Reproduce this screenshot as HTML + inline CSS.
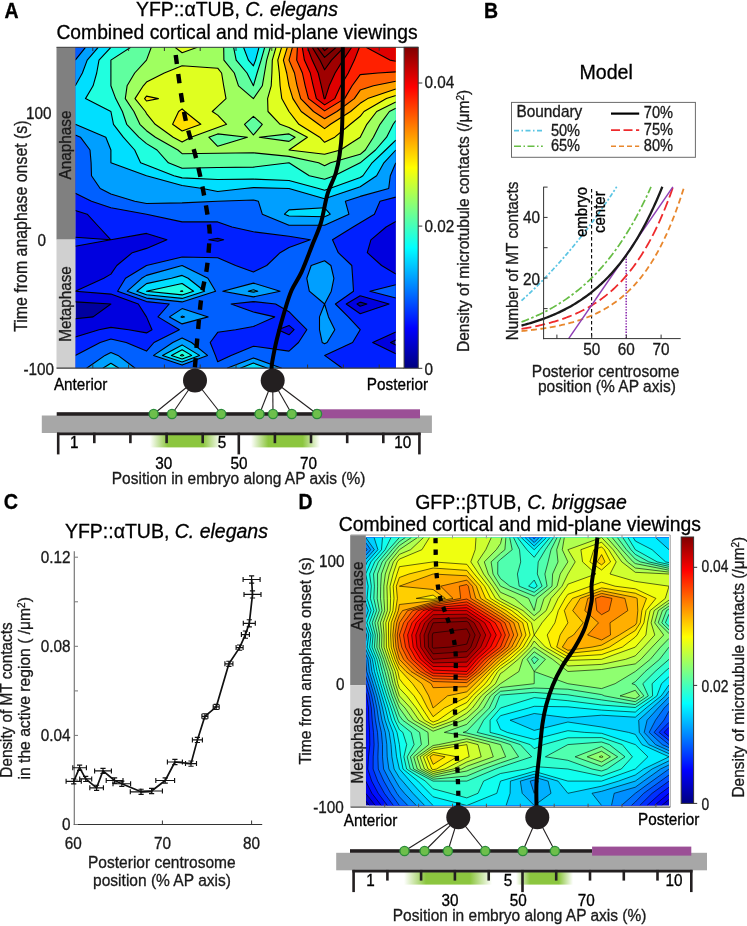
<!DOCTYPE html>
<html><head><meta charset="utf-8"><title>Figure</title>
<style>html,body{margin:0;padding:0;background:#fff;}svg{display:block;will-change:transform;}text{font-family:"Liberation Sans",sans-serif;}</style>
</head><body>
<svg width="747" height="926" viewBox="0 0 747 926" font-family="Liberation Sans, sans-serif">
<rect width="747" height="926" fill="#fff"/>
<defs><linearGradient id="jetg" x1="0" y1="1" x2="0" y2="0"><stop offset="0.000" stop-color="#000080"/><stop offset="0.031" stop-color="#00009f"/><stop offset="0.062" stop-color="#0000bf"/><stop offset="0.094" stop-color="#0000df"/><stop offset="0.125" stop-color="#0000ff"/><stop offset="0.156" stop-color="#0020ff"/><stop offset="0.188" stop-color="#0040ff"/><stop offset="0.219" stop-color="#0060ff"/><stop offset="0.250" stop-color="#0080ff"/><stop offset="0.281" stop-color="#009fff"/><stop offset="0.312" stop-color="#00bfff"/><stop offset="0.344" stop-color="#00dfff"/><stop offset="0.375" stop-color="#00ffff"/><stop offset="0.406" stop-color="#20ffdf"/><stop offset="0.438" stop-color="#40ffbf"/><stop offset="0.469" stop-color="#60ff9f"/><stop offset="0.500" stop-color="#80ff80"/><stop offset="0.531" stop-color="#9fff60"/><stop offset="0.562" stop-color="#bfff40"/><stop offset="0.594" stop-color="#dfff20"/><stop offset="0.625" stop-color="#ffff00"/><stop offset="0.656" stop-color="#ffdf00"/><stop offset="0.688" stop-color="#ffbf00"/><stop offset="0.719" stop-color="#ff9f00"/><stop offset="0.750" stop-color="#ff8000"/><stop offset="0.781" stop-color="#ff6000"/><stop offset="0.812" stop-color="#ff4000"/><stop offset="0.844" stop-color="#ff2000"/><stop offset="0.875" stop-color="#ff0000"/><stop offset="0.906" stop-color="#df0000"/><stop offset="0.938" stop-color="#bf0000"/><stop offset="0.969" stop-color="#9f0000"/><stop offset="1.000" stop-color="#800000"/></linearGradient>
<linearGradient id="gband" x1="0" y1="0" x2="1" y2="0"><stop offset="0" stop-color="#8cc63f" stop-opacity="0"/><stop offset="0.25" stop-color="#8cc63f"/><stop offset="0.75" stop-color="#8cc63f"/><stop offset="1" stop-color="#8cc63f" stop-opacity="0"/></linearGradient>
<clipPath id="clipA"><rect x="75.3" y="47.3" width="320.5" height="320.9"/></clipPath>
<clipPath id="clipD"><rect x="365.7" y="537.5" width="303.3" height="268"/></clipPath>
</defs>
<text transform="translate(4.6 17.6) scale(1 1.1)" font-size="19.50" font-weight="bold" fill="#000" stroke="#000" stroke-width="0.30">A</text>
<text transform="translate(236.9 15.8) scale(1 1.05)" font-size="19.40" text-anchor="middle" fill="#000" stroke="#000" stroke-width="0.30">YFP::αTUB, <tspan font-style="italic">C. elegans</tspan></text>
<text transform="translate(237.0 38.6) scale(1 1.05)" font-size="19.30" text-anchor="middle" fill="#000" stroke="#000" stroke-width="0.30">Combined cortical and mid-plane viewings</text>
<g clip-path="url(#clipA)">
<rect x="75.3" y="47.3" width="320.5" height="320.9" fill="#00009f"/>
<path d="M110.9 47.3L146.5 47.3L182.1 47.3L217.7 47.3L253.4 47.3L289.0 47.3L324.6 47.3L360.2 47.3L395.8 47.3L395.8 60.1L395.8 73.0L395.8 85.8L395.8 98.6L395.8 111.5L395.8 124.3L395.8 137.2L395.8 150.0L395.8 162.8L395.8 175.7L395.8 188.5L395.8 201.3L395.8 214.2L395.8 227.0L395.8 239.8L395.8 252.7L395.8 265.5L395.8 278.3L395.8 291.2L395.8 304.0L395.8 316.9L395.8 329.7L395.8 340.1L390.5 342.5L395.8 345.1L395.8 355.4L395.8 368.2L360.2 368.2L324.6 368.2L289.0 368.2L253.4 368.2L217.7 368.2L182.1 368.2L146.5 368.2L110.9 368.2L75.3 368.2L75.3 355.4L75.3 342.5L75.3 329.7L75.3 318.7L93.1 316.9L110.9 304.0L110.9 304.0L110.9 304.0L75.3 301.9L75.3 291.2L75.3 278.3L75.3 265.5L75.3 252.7L75.3 239.8L75.3 227.0L75.3 214.2L75.3 201.3L75.3 188.5L75.3 175.7L75.3 162.8L75.3 150.0L75.3 137.2L75.3 124.3L75.3 111.5L75.3 98.6L75.3 85.8L75.3 73.0L75.3 60.1L75.3 47.3ZM357.0 304.0L360.2 306.3L366.9 304.0L360.2 302.1Z" fill="#0000df" fill-rule="evenodd"/>
<path d="M110.9 47.3L146.5 47.3L182.1 47.3L217.7 47.3L253.4 47.3L289.0 47.3L324.6 47.3L360.2 47.3L395.8 47.3L395.8 60.1L395.8 73.0L395.8 85.8L395.8 98.6L395.8 111.5L395.8 124.3L395.8 137.2L395.8 150.0L395.8 162.8L395.8 175.7L395.8 188.5L395.8 201.3L395.8 214.2L395.8 221.5L386.1 227.0L370.9 239.8L367.3 252.7L381.6 265.5L395.8 274.1L395.8 278.3L395.8 291.2L395.8 304.0L395.8 316.9L395.8 329.7L395.8 332.1L372.7 342.5L395.8 353.7L395.8 355.4L395.8 368.2L360.2 368.2L324.6 368.2L289.0 368.2L253.4 368.2L217.7 368.2L182.1 368.2L146.5 368.2L110.9 368.2L75.3 368.2L75.3 355.4L75.3 342.5L75.3 337.0L99.0 329.7L110.9 327.4L128.7 329.7L146.5 332.9L152.0 329.7L146.5 316.9L146.5 316.9L138.3 304.0L110.9 294.1L75.3 291.2L103.8 278.3L110.9 274.1L116.8 265.5L132.3 252.7L146.5 248.4L166.9 239.8L146.5 233.4L110.9 239.8L99.0 227.0L87.2 214.2L75.3 210.5L75.3 201.3L75.3 188.5L75.3 175.7L75.3 162.8L75.3 150.0L75.3 137.2L75.3 124.3L75.3 111.5L75.3 98.6L75.3 85.8L75.3 73.0L75.3 60.1L75.3 47.3ZM208.8 239.8L217.7 241.3L223.7 239.8L217.7 238.4ZM346.2 304.0L360.2 313.8L389.1 304.0L360.2 295.7ZM278.0 329.7L289.0 334.8L294.1 329.7L289.0 325.4ZM110.9 239.8L75.3 246.3L75.3 239.8L75.3 237.3Z" fill="#0020ff" fill-rule="evenodd"/>
<path d="M110.9 47.3L146.5 47.3L182.1 47.3L217.7 47.3L253.4 47.3L289.0 47.3L324.6 47.3L360.2 47.3L395.8 47.3L395.8 60.1L395.8 73.0L395.8 85.8L395.8 98.6L395.8 111.5L395.8 124.3L395.8 137.2L395.8 150.0L395.8 162.8L395.8 175.7L395.8 188.5L395.8 197.1L380.0 201.3L374.4 214.2L360.2 222.7L353.1 227.0L332.5 239.8L338.3 252.7L351.8 265.5L352.7 278.3L353.5 291.2L335.4 304.0L348.3 316.9L360.2 329.7L352.6 342.5L324.6 355.4L324.6 355.4L324.6 355.4L342.4 368.2L324.6 368.2L289.0 368.2L253.4 368.2L217.7 368.2L182.1 368.2L182.1 368.2L182.1 368.2L146.5 368.2L110.9 368.2L75.3 368.2L75.3 355.4L75.3 355.4L100.2 342.5L110.9 339.0L126.2 342.5L146.5 351.1L154.0 342.5L179.4 329.7L158.0 316.9L169.2 304.0L146.5 301.6L117.6 291.2L125.5 278.3L146.5 265.5L146.5 265.5L182.1 257.0L217.7 257.8L235.6 265.5L253.4 271.9L266.7 265.5L280.1 252.7L289.0 247.5L310.3 239.8L289.0 236.3L253.4 231.8L232.0 227.0L217.7 221.9L182.1 221.9L146.5 214.2L146.5 214.2L110.9 207.8L91.5 201.3L75.3 193.3L75.3 188.5L75.3 175.7L75.3 162.8L75.3 150.0L75.3 137.2L75.3 124.3L75.3 111.5L75.3 98.6L75.3 85.8L75.3 73.0L75.3 60.1L75.3 47.3ZM231.1 304.0L253.4 312.0L274.7 316.9L253.4 326.5L235.6 329.7L217.7 332.3L210.2 342.5L215.4 355.4L217.7 361.8L231.1 355.4L253.4 346.2L289.0 351.1L298.5 342.5L306.8 329.7L294.1 316.9L289.0 311.7L275.6 304.0L253.4 301.6ZM395.8 284.8L395.8 291.2L395.8 298.0L369.9 291.2Z" fill="#0060ff" fill-rule="evenodd"/>
<path d="M110.9 47.3L146.5 47.3L182.1 47.3L217.7 47.3L253.4 47.3L289.0 47.3L324.6 47.3L360.2 47.3L395.8 47.3L395.8 60.1L395.8 73.0L395.8 85.8L395.8 98.6L395.8 111.5L395.8 124.3L395.8 137.2L395.8 150.0L395.8 162.8L395.8 162.8L390.3 175.7L388.7 188.5L360.2 196.4L345.4 201.3L348.9 214.2L324.6 225.3L289.0 225.2L262.3 214.2L258.4 201.3L253.4 200.0L217.7 201.3L217.7 201.3L182.1 202.9L146.5 203.5L134.7 201.3L110.9 194.0L100.2 188.5L91.5 175.7L91.1 162.8L90.0 150.0L80.4 137.2L75.3 135.0L75.3 124.3L75.3 111.5L75.3 98.6L75.3 85.8L75.3 73.0L75.3 60.1L75.3 60.1L85.5 47.3ZM324.6 260.7L330.9 265.5L333.9 278.3L331.3 291.2L324.6 304.0L309.3 291.2L306.8 278.3L311.2 265.5ZM146.5 275.4L182.1 265.5L207.9 278.3L215.6 291.2L182.1 301.9L146.5 298.1L127.3 291.2L141.7 278.3ZM253.4 283.1L280.1 291.2L253.4 296.9L222.8 291.2ZM182.1 308.6L208.2 316.9L182.1 323.9L169.5 316.9ZM324.6 304.0L328.5 316.9L334.8 329.7L327.1 342.5L324.6 343.7L322.2 342.5L319.5 329.7L319.5 316.9ZM182.1 337.9L191.5 342.5L207.5 355.4L182.1 365.1L153.6 355.4L172.8 342.5ZM110.9 352.5L118.0 355.4L135.2 368.2L110.9 368.2L86.6 368.2L105.0 355.4ZM253.4 357.9L281.8 368.2L253.4 368.2L227.0 368.2Z" fill="#009fff" fill-rule="evenodd"/>
<path d="M110.9 47.3L146.5 47.3L182.1 47.3L217.7 47.3L253.4 47.3L253.4 47.3L253.4 47.3L289.0 47.3L324.6 47.3L360.2 47.3L395.8 47.3L395.8 60.1L395.8 73.0L395.8 85.8L395.8 98.6L395.8 111.5L395.8 124.3L395.8 137.2L395.8 150.0L395.8 150.0L383.9 162.8L376.6 175.7L360.2 186.7L355.1 188.5L324.6 198.8L289.0 188.5L289.0 188.5L253.4 187.6L244.5 188.5L217.7 191.5L202.5 188.5L182.1 185.5L146.5 175.7L146.5 175.7L110.9 162.8L110.9 150.0L110.9 150.0L105.8 137.2L75.3 124.3L75.3 124.3L75.3 111.5L75.3 98.6L75.3 85.8L75.3 85.8L82.4 73.0L87.2 60.1L98.2 47.3ZM289.0 209.9L324.6 207.8L330.2 214.2L324.6 216.7L289.0 216.0L284.5 214.2ZM182.1 275.4L188.1 278.3L204.6 291.2L182.1 298.4L146.5 294.7L136.9 291.2L146.5 283.6L171.4 278.3ZM253.4 289.8L257.8 291.2L253.4 292.1L248.3 291.2ZM182.1 316.1L184.5 316.9L182.1 317.5L181.0 316.9ZM182.1 344.9L199.5 355.4L182.1 362.1L162.5 355.4ZM110.9 363.3L119.0 368.2L110.9 368.2L102.8 368.2ZM253.4 363.1L267.6 368.2L253.4 368.2L240.2 368.2Z" fill="#00dfff" fill-rule="evenodd"/>
<path d="M110.9 47.3L110.9 47.3L146.5 47.3L182.1 47.3L217.7 47.3L243.5 47.3L248.4 60.1L253.4 65.8L255.6 60.1L259.0 47.3L289.0 47.3L324.6 47.3L360.2 47.3L395.8 47.3L395.8 60.1L395.8 73.0L395.8 85.8L395.8 98.6L395.8 111.5L395.8 124.3L395.8 137.2L395.8 140.1L385.6 150.0L372.1 162.8L362.9 175.7L360.2 177.5L329.7 188.5L324.6 190.2L318.6 188.5L289.0 180.5L253.4 179.1L217.7 179.5L182.1 177.9L173.9 175.7L146.5 165.0L140.6 162.8L134.7 150.0L123.3 137.2L113.5 124.3L110.9 111.5L110.9 111.5L85.5 98.6L93.1 85.8L96.7 73.0L99.0 60.1ZM182.1 283.5L193.6 291.2L182.1 294.9L146.5 291.2ZM182.1 349.7L191.6 355.4L182.1 359.0L171.4 355.4Z" fill="#20ffdf" fill-rule="evenodd"/>
<path d="M146.5 47.3L182.1 47.3L217.7 47.3L233.6 47.3L236.2 60.1L247.0 73.0L253.4 85.8L253.4 85.8L253.4 85.8L257.1 73.0L261.1 60.1L264.7 47.3L289.0 47.3L324.6 47.3L360.2 47.3L395.8 47.3L395.8 60.1L395.8 73.0L395.8 85.8L395.8 98.6L395.8 111.5L395.8 120.6L393.2 124.3L386.6 137.2L375.5 150.0L360.2 162.8L360.2 162.8L334.3 175.7L324.6 179.2L309.3 175.7L289.0 162.8L289.0 162.8L289.0 162.8L253.4 167.1L217.7 167.5L182.1 168.2L168.4 162.8L157.0 150.0L146.5 143.6L138.8 137.2L126.7 124.3L122.4 111.5L115.7 98.6L110.9 85.8L110.9 73.0L110.9 60.1L130.7 47.3ZM182.1 290.8L182.7 291.2L182.1 291.4L180.4 291.2ZM182.1 354.4L183.7 355.4L182.1 356.0L180.4 355.4Z" fill="#60ff9f" fill-rule="evenodd"/>
<path d="M182.1 47.3L217.7 47.3L223.7 47.3L223.9 60.1L234.3 73.0L238.5 85.8L253.4 98.6L253.4 98.6L253.4 98.6L262.3 85.8L264.5 73.0L266.7 60.1L270.3 47.3L289.0 47.3L324.6 47.3L360.2 47.3L395.8 47.3L395.8 60.1L395.8 73.0L395.8 85.8L395.8 98.6L395.8 108.3L389.4 111.5L380.0 124.3L373.4 137.2L365.3 150.0L360.2 154.3L330.5 162.8L324.6 165.7L318.6 162.8L289.0 156.4L253.4 152.8L217.7 153.2L182.1 153.7L177.9 150.0L155.4 137.2L146.5 130.7L139.9 124.3L133.9 111.5L125.3 98.6L127.1 85.8L134.7 73.0L146.5 60.1L146.5 60.1L151.3 47.3ZM244.5 124.3L253.4 135.0L262.3 124.3L253.4 116.3ZM208.8 137.2L217.7 146.3L247.4 137.2L217.7 133.9ZM259.3 137.2L289.0 141.4L295.1 137.2L289.0 133.9Z" fill="#9fff60" fill-rule="evenodd"/>
<path d="M182.1 47.3L197.4 47.3L182.1 52.8L175.0 47.3ZM289.0 47.3L324.6 47.3L360.2 47.3L395.8 47.3L395.8 60.1L395.8 73.0L395.8 85.8L395.8 98.6L395.8 101.9L376.7 111.5L366.8 124.3L360.2 137.2L360.2 137.2L340.4 150.0L324.6 154.3L289.0 150.0L307.4 137.2L289.0 127.5L280.1 124.3L268.0 111.5L267.6 98.6L271.2 85.8L271.9 73.0L272.3 60.1L276.0 47.3ZM182.1 65.8L217.7 68.2L221.6 73.0L223.7 85.8L226.0 98.6L217.7 106.3L212.3 111.5L217.7 115.1L226.6 124.3L217.7 127.5L191.0 137.2L182.1 142.1L173.2 137.2L155.2 124.3L146.5 113.6L145.4 111.5L135.0 98.6L143.3 85.8L146.5 82.1L164.3 73.0Z" fill="#dfff20" fill-rule="evenodd"/>
<path d="M289.0 47.3L324.6 47.3L360.2 47.3L395.8 47.3L395.8 60.1L395.8 73.0L395.8 85.8L395.8 95.4L386.4 98.6L364.0 111.5L360.2 116.3L350.3 124.3L334.8 137.2L324.6 142.3L319.7 137.2L298.9 124.3L289.0 111.5L289.0 111.5L281.8 98.6L280.1 85.8L279.3 73.0L277.8 60.1L281.6 47.3ZM146.5 96.1L158.4 98.6L146.5 101.0L144.6 98.6ZM182.1 108.9L184.9 111.5L200.8 124.3L182.1 131.0L172.6 124.3L178.6 111.5Z" fill="#ffdf00" fill-rule="evenodd"/>
<path d="M289.0 47.3L324.6 47.3L360.2 47.3L395.8 47.3L395.8 60.1L395.8 73.0L395.8 85.8L395.8 89.0L367.7 98.6L360.2 103.3L350.6 111.5L330.5 124.3L324.6 128.6L318.6 124.3L301.2 111.5L292.9 98.6L289.0 85.8L289.0 85.8L286.7 73.0L283.4 60.1L287.3 47.3Z" fill="#ff9f00" fill-rule="evenodd"/>
<path d="M324.6 47.3L360.2 47.3L395.8 47.3L395.8 60.1L395.8 73.0L395.8 81.2L373.5 85.8L360.2 90.1L354.3 98.6L336.9 111.5L324.6 118.7L313.5 111.5L300.7 98.6L297.1 85.8L294.5 73.0L289.0 60.1L292.4 47.3Z" fill="#ff6000" fill-rule="evenodd"/>
<path d="M324.6 47.3L360.2 47.3L395.8 47.3L395.8 60.1L395.8 71.9L378.0 73.0L360.2 74.6L352.1 85.8L344.6 98.6L324.6 110.9L308.5 98.6L305.2 85.8L302.4 73.0L296.7 60.1L297.4 47.3Z" fill="#ff2000" fill-rule="evenodd"/>
<path d="M324.6 47.3L359.4 47.3L354.4 60.1L348.3 73.0L340.7 85.8L334.8 98.6L324.6 104.9L316.4 98.6L313.2 85.8L310.3 73.0L304.4 60.1L302.3 47.3ZM395.8 47.3L395.8 60.1L395.8 61.2L389.9 60.1L366.1 47.3Z" fill="#df0000" fill-rule="evenodd"/>
<path d="M324.6 47.3L351.7 47.3L343.0 60.1L335.1 73.0L329.2 85.8L325.1 98.6L324.6 98.9L324.2 98.6L321.3 85.8L318.2 73.0L312.2 60.1L307.3 47.3Z" fill="#9f0000" fill-rule="evenodd"/>
<path d="M324.6 47.3L343.9 47.3L331.5 60.1L324.6 69.8L319.9 60.1L312.2 47.3Z" fill="#800000" fill-rule="evenodd"/>
<path d="M324.6 47.3L336.2 47.3L324.6 57.4L317.2 47.3Z" fill="#800000" fill-rule="evenodd"/>
<path d="M324.6 47.3L328.4 47.3L324.6 50.7L322.1 47.3Z" fill="#800000" fill-rule="evenodd"/>
<path d="M75.3 318.7L93.1 316.9L110.9 304.0L110.9 304.0L110.9 304.0L75.3 301.9M395.8 340.1L390.5 342.5L395.8 345.1M360.2 302.1L357.0 304.0L360.2 306.3L366.9 304.0L360.2 302.1M395.8 221.5L386.1 227.0L370.9 239.8L367.3 252.7L381.6 265.5L395.8 274.1M75.3 237.3L110.9 239.8L75.3 246.3M75.3 337.0L99.0 329.7L110.9 327.4L128.7 329.7L146.5 332.9L152.0 329.7L146.5 316.9L146.5 316.9L138.3 304.0L110.9 294.1L75.3 291.2L103.8 278.3L110.9 274.1L116.8 265.5L132.3 252.7L146.5 248.4L166.9 239.8L146.5 233.4L110.9 239.8L99.0 227.0L87.2 214.2L75.3 210.5M395.8 332.1L372.7 342.5L395.8 353.7M217.7 238.4L208.8 239.8L217.7 241.3L223.7 239.8L217.7 238.4M360.2 295.7L346.2 304.0L360.2 313.8L389.1 304.0L360.2 295.7M289.0 325.4L278.0 329.7L289.0 334.8L294.1 329.7ZM395.8 197.1L380.0 201.3L374.4 214.2L360.2 222.7L353.1 227.0L332.5 239.8L338.3 252.7L351.8 265.5L352.7 278.3L353.5 291.2L335.4 304.0L348.3 316.9L360.2 329.7L352.6 342.5L324.6 355.4L324.6 355.4L324.6 355.4L342.4 368.2M395.8 298.0L369.9 291.2L395.8 284.8M75.3 355.4L75.3 355.4L100.2 342.5L110.9 339.0L126.2 342.5L146.5 351.1L154.0 342.5L179.4 329.7L158.0 316.9L169.2 304.0L146.5 301.6L117.6 291.2L125.5 278.3L146.5 265.5L146.5 265.5L182.1 257.0L217.7 257.8L235.6 265.5L253.4 271.9L266.7 265.5L280.1 252.7L289.0 247.5L310.3 239.8L289.0 236.3L253.4 231.8L232.0 227.0L217.7 221.9L182.1 221.9L146.5 214.2L146.5 214.2L110.9 207.8L91.5 201.3L75.3 193.3M182.1 368.2L182.1 368.2ZM253.4 301.6L231.1 304.0L253.4 312.0L274.7 316.9L253.4 326.5L235.6 329.7L217.7 332.3L210.2 342.5L215.4 355.4L217.7 361.8L231.1 355.4L253.4 346.2L289.0 351.1L298.5 342.5L306.8 329.7L294.1 316.9L289.0 311.7L275.6 304.0L253.4 301.6M75.3 60.1L75.3 60.1L85.5 47.3M395.8 162.8L395.8 162.8L390.3 175.7L388.7 188.5L360.2 196.4L345.4 201.3L348.9 214.2L324.6 225.3L289.0 225.2L262.3 214.2L258.4 201.3L253.4 200.0L217.7 201.3L217.7 201.3L182.1 202.9L146.5 203.5L134.7 201.3L110.9 194.0L100.2 188.5L91.5 175.7L91.1 162.8L90.0 150.0L80.4 137.2L75.3 135.0M86.6 368.2L105.0 355.4L110.9 352.5L118.0 355.4L135.2 368.2M227.0 368.2L253.4 357.9L281.8 368.2M324.6 260.7L330.9 265.5L333.9 278.3L331.3 291.2L324.6 304.0L309.3 291.2L306.8 278.3L311.2 265.5ZM146.5 275.4L182.1 265.5L207.9 278.3L215.6 291.2L182.1 301.9L146.5 298.1L127.3 291.2L141.7 278.3ZM253.4 283.1L280.1 291.2L253.4 296.9L222.8 291.2ZM182.1 308.6L208.2 316.9L182.1 323.9L169.5 316.9ZM324.6 304.0L328.5 316.9L334.8 329.7L327.1 342.5L324.6 343.7L322.2 342.5L319.5 329.7L319.5 316.9ZM182.1 337.9L191.5 342.5L207.5 355.4L182.1 365.1L153.6 355.4L172.8 342.5ZM253.4 47.3L253.4 47.3ZM75.3 85.8L75.3 85.8L82.4 73.0L87.2 60.1L98.2 47.3M395.8 150.0L395.8 150.0L383.9 162.8L376.6 175.7L360.2 186.7L355.1 188.5L324.6 198.8L289.0 188.5L289.0 188.5L253.4 187.6L244.5 188.5L217.7 191.5L202.5 188.5L182.1 185.5L146.5 175.7L146.5 175.7L110.9 162.8L110.9 150.0L110.9 150.0L105.8 137.2L75.3 124.3L75.3 124.3M102.8 368.2L110.9 363.3L119.0 368.2M240.2 368.2L253.4 363.1L267.6 368.2M289.0 209.9L324.6 207.8L330.2 214.2L324.6 216.7L289.0 216.0L284.5 214.2ZM182.1 275.4L188.1 278.3L204.6 291.2L182.1 298.4L146.5 294.7L136.9 291.2L146.5 283.6L171.4 278.3ZM253.4 289.8L257.8 291.2L253.4 292.1L248.3 291.2ZM182.1 316.1L184.5 316.9L182.1 317.5L181.0 316.9ZM182.1 344.9L199.5 355.4L182.1 362.1L162.5 355.4ZM243.5 47.3L248.4 60.1L253.4 65.8L255.6 60.1L259.0 47.3M395.8 140.1L385.6 150.0L372.1 162.8L362.9 175.7L360.2 177.5L329.7 188.5L324.6 190.2L318.6 188.5L289.0 180.5L253.4 179.1L217.7 179.5L182.1 177.9L173.9 175.7L146.5 165.0L140.6 162.8L134.7 150.0L123.3 137.2L113.5 124.3L110.9 111.5L110.9 111.5L85.5 98.6L93.1 85.8L96.7 73.0L99.0 60.1L110.9 47.3L110.9 47.3M182.1 283.5L193.6 291.2L182.1 294.9L146.5 291.2ZM182.1 349.7L191.6 355.4L182.1 359.0L171.4 355.4ZM233.6 47.3L236.2 60.1L247.0 73.0L253.4 85.8L253.4 85.8L253.4 85.8L257.1 73.0L261.1 60.1L264.7 47.3M395.8 120.6L393.2 124.3L386.6 137.2L375.5 150.0L360.2 162.8L360.2 162.8L334.3 175.7L324.6 179.2L309.3 175.7L289.0 162.8L289.0 162.8L289.0 162.8L253.4 167.1L217.7 167.5L182.1 168.2L168.4 162.8L157.0 150.0L146.5 143.6L138.8 137.2L126.7 124.3L122.4 111.5L115.7 98.6L110.9 85.8L110.9 73.0L110.9 60.1L130.7 47.3M182.1 290.8L182.7 291.2L182.1 291.4L180.4 291.2ZM182.1 354.4L183.7 355.4L182.1 356.0L180.4 355.4ZM223.7 47.3L223.9 60.1L234.3 73.0L238.5 85.8L253.4 98.6L253.4 98.6L253.4 98.6L262.3 85.8L264.5 73.0L266.7 60.1L270.3 47.3M395.8 108.3L389.4 111.5L380.0 124.3L373.4 137.2L365.3 150.0L360.2 154.3L330.5 162.8L324.6 165.7L318.6 162.8L289.0 156.4L253.4 152.8L217.7 153.2L182.1 153.7L177.9 150.0L155.4 137.2L146.5 130.7L139.9 124.3L133.9 111.5L125.3 98.6L127.1 85.8L134.7 73.0L146.5 60.1L146.5 60.1L151.3 47.3M253.4 116.3L244.5 124.3L253.4 135.0L262.3 124.3ZM217.7 133.9L208.8 137.2L217.7 146.3L247.4 137.2ZM289.0 133.9L259.3 137.2L289.0 141.4L295.1 137.2ZM197.4 47.3L182.1 52.8L175.0 47.3M395.8 101.9L376.7 111.5L366.8 124.3L360.2 137.2L360.2 137.2L340.4 150.0L324.6 154.3L289.0 150.0L307.4 137.2L289.0 127.5L280.1 124.3L268.0 111.5L267.6 98.6L271.2 85.8L271.9 73.0L272.3 60.1L276.0 47.3M182.1 65.8L217.7 68.2L221.6 73.0L223.7 85.8L226.0 98.6L217.7 106.3L212.3 111.5L217.7 115.1L226.6 124.3L217.7 127.5L191.0 137.2L182.1 142.1L173.2 137.2L155.2 124.3L146.5 113.6L145.4 111.5L135.0 98.6L143.3 85.8L146.5 82.1L164.3 73.0ZM395.8 95.4L386.4 98.6L364.0 111.5L360.2 116.3L350.3 124.3L334.8 137.2L324.6 142.3L319.7 137.2L298.9 124.3L289.0 111.5L289.0 111.5L281.8 98.6L280.1 85.8L279.3 73.0L277.8 60.1L281.6 47.3M146.5 96.1L158.4 98.6L146.5 101.0L144.6 98.6ZM182.1 108.9L184.9 111.5L200.8 124.3L182.1 131.0L172.6 124.3L178.6 111.5ZM395.8 89.0L367.7 98.6L360.2 103.3L350.6 111.5L330.5 124.3L324.6 128.6L318.6 124.3L301.2 111.5L292.9 98.6L289.0 85.8L289.0 85.8L286.7 73.0L283.4 60.1L287.3 47.3M395.8 81.2L373.5 85.8L360.2 90.1L354.3 98.6L336.9 111.5L324.6 118.7L313.5 111.5L300.7 98.6L297.1 85.8L294.5 73.0L289.0 60.1L292.4 47.3M395.8 71.9L378.0 73.0L360.2 74.6L352.1 85.8L344.6 98.6L324.6 110.9L308.5 98.6L305.2 85.8L302.4 73.0L296.7 60.1L297.4 47.3M359.4 47.3L354.4 60.1L348.3 73.0L340.7 85.8L334.8 98.6L324.6 104.9L316.4 98.6L313.2 85.8L310.3 73.0L304.4 60.1L302.3 47.3M395.8 61.2L389.9 60.1L366.1 47.3M351.7 47.3L343.0 60.1L335.1 73.0L329.2 85.8L325.1 98.6L324.6 98.9L324.2 98.6L321.3 85.8L318.2 73.0L312.2 60.1L307.3 47.3M343.9 47.3L331.5 60.1L324.6 69.8L319.9 60.1L312.2 47.3M336.2 47.3L324.6 57.4L317.2 47.3M328.4 47.3L324.6 50.7L322.1 47.3" fill="none" stroke="#000" stroke-width="1.10" stroke-linejoin="round"/>
</g>
<rect x="56.5" y="47.3" width="18.8" height="192.3" fill="#808080"/>
<rect x="56.5" y="239.6" width="18.8" height="128.6" fill="#d0d0d0"/>
<text transform="translate(70.5 145.0) rotate(-90) scale(1 1.1)" font-size="15.30" text-anchor="middle" fill="#1a1a1a" stroke="#1a1a1a" stroke-width="0.30">Anaphase</text>
<text transform="translate(70.5 304.0) rotate(-90) scale(1 1.1)" font-size="15.30" text-anchor="middle" fill="#1a1a1a" stroke="#1a1a1a" stroke-width="0.30">Metaphase</text>
<line x1="56.5" y1="47.3" x2="418.2" y2="47.3" stroke="#3a3a3a" stroke-width="1.00"/>
<line x1="56.5" y1="368.2" x2="404.0" y2="368.2" stroke="#3a3a3a" stroke-width="1.20"/>
<text transform="translate(51.5 118.5) scale(1 1.1)" font-size="15.30" text-anchor="end" fill="#1a1a1a" stroke="#1a1a1a" stroke-width="0.30">100</text>
<text transform="translate(46.0 246.3) scale(1 1.1)" font-size="15.30" text-anchor="end" fill="#1a1a1a" stroke="#1a1a1a" stroke-width="0.30">0</text>
<text transform="translate(54.0 374.5) scale(1 1.1)" font-size="15.30" text-anchor="end" fill="#1a1a1a" stroke="#1a1a1a" stroke-width="0.30">-100</text>
<line x1="92.8" y1="368.2" x2="92.8" y2="364.5" stroke="#333" stroke-width="1.00"/>
<line x1="92.8" y1="47.3" x2="92.8" y2="51.0" stroke="#333" stroke-width="1.00"/>
<line x1="128.6" y1="368.2" x2="128.6" y2="364.5" stroke="#333" stroke-width="1.00"/>
<line x1="128.6" y1="47.3" x2="128.6" y2="51.0" stroke="#333" stroke-width="1.00"/>
<line x1="164.4" y1="368.2" x2="164.4" y2="364.5" stroke="#333" stroke-width="1.00"/>
<line x1="164.4" y1="47.3" x2="164.4" y2="51.0" stroke="#333" stroke-width="1.00"/>
<line x1="200.2" y1="368.2" x2="200.2" y2="364.5" stroke="#333" stroke-width="1.00"/>
<line x1="200.2" y1="47.3" x2="200.2" y2="51.0" stroke="#333" stroke-width="1.00"/>
<line x1="236.0" y1="368.2" x2="236.0" y2="364.5" stroke="#333" stroke-width="1.00"/>
<line x1="236.0" y1="47.3" x2="236.0" y2="51.0" stroke="#333" stroke-width="1.00"/>
<line x1="271.8" y1="368.2" x2="271.8" y2="364.5" stroke="#333" stroke-width="1.00"/>
<line x1="271.8" y1="47.3" x2="271.8" y2="51.0" stroke="#333" stroke-width="1.00"/>
<line x1="307.6" y1="368.2" x2="307.6" y2="364.5" stroke="#333" stroke-width="1.00"/>
<line x1="307.6" y1="47.3" x2="307.6" y2="51.0" stroke="#333" stroke-width="1.00"/>
<line x1="343.4" y1="368.2" x2="343.4" y2="364.5" stroke="#333" stroke-width="1.00"/>
<line x1="343.4" y1="47.3" x2="343.4" y2="51.0" stroke="#333" stroke-width="1.00"/>
<line x1="379.2" y1="368.2" x2="379.2" y2="364.5" stroke="#333" stroke-width="1.00"/>
<line x1="379.2" y1="47.3" x2="379.2" y2="51.0" stroke="#333" stroke-width="1.00"/>
<text transform="translate(26.8 226.1) rotate(-90) scale(1 1.1)" font-size="15.90" text-anchor="middle" fill="#1a1a1a" stroke="#1a1a1a" stroke-width="0.30">Time from anaphase onset (s)</text>
<rect x="404.1" y="47.3" width="14.1" height="320.9" fill="url(#jetg)" stroke="#333" stroke-width="1"/>
<line x1="418.2" y1="83.0" x2="422.3" y2="83.0" stroke="#333" stroke-width="1.00"/>
<text transform="translate(424.4 87.7) scale(1 1.1)" font-size="15.30" fill="#1a1a1a" stroke="#1a1a1a" stroke-width="0.30">0.04</text>
<line x1="418.2" y1="226.1" x2="422.3" y2="226.1" stroke="#333" stroke-width="1.00"/>
<text transform="translate(424.4 232.1) scale(1 1.1)" font-size="15.30" fill="#1a1a1a" stroke="#1a1a1a" stroke-width="0.30">0.02</text>
<line x1="418.2" y1="368.3" x2="422.3" y2="368.3" stroke="#333" stroke-width="1.00"/>
<text transform="translate(424.4 374.8) scale(1 1.1)" font-size="15.30" fill="#1a1a1a" stroke="#1a1a1a" stroke-width="0.30">0</text>
<text transform="translate(468.5 220.9) rotate(-90) scale(1 1.1)" font-size="15.55" text-anchor="middle" fill="#1a1a1a" stroke="#1a1a1a" stroke-width="0.30">Density of microtubule contacts (/μm<tspan font-size="10" dy="-4.5">2</tspan><tspan dy="4.5">)</tspan></text>
<path d="M175.7 55.0 C176.6 61.7 179.4 83.5 181.2 95.1 C183.0 106.7 184.2 114.1 186.7 124.5 C189.1 134.9 193.2 146.5 195.9 157.5 C198.7 168.5 201.0 179.6 203.2 190.6 C205.3 201.6 207.8 215.6 208.8 223.6 C209.9 231.6 209.8 231.0 209.5 238.3 C209.2 245.7 208.2 257.9 206.9 267.7 C205.6 277.5 202.9 286.1 201.4 297.1 C199.9 308.1 198.8 321.9 197.7 333.8 C196.6 345.7 195.3 362.7 194.8 368.5" fill="none" stroke="#000" stroke-width="4.4" stroke-dasharray="9.3 9.9"/>
<path d="M342.8 47.3 C342.8 55.3 343.0 81.0 342.8 95.1 C342.6 109.2 342.4 121.8 341.9 131.8 C341.4 141.8 340.6 148.1 339.6 155.0 C338.6 161.9 337.8 166.4 335.8 173.0 C333.8 179.6 329.9 186.1 327.4 194.4 C324.9 202.7 323.5 214.3 320.9 222.9 C318.3 231.5 315.0 238.0 311.8 246.2 C308.6 254.4 304.9 264.8 301.5 272.1 C298.1 279.5 294.4 283.8 291.6 290.3 C288.8 296.8 287.1 302.8 284.6 311.0 C282.1 319.2 278.9 331.0 276.8 339.5 C274.7 348.0 273.1 356.9 272.2 362.0 C271.3 367.1 271.7 368.7 271.6 370.0" fill="none" stroke="#000" stroke-width="4"/>
<text transform="translate(53.9 390.2) scale(1 1.1)" font-size="15.30" fill="#000" stroke="#000" stroke-width="0.30">Anterior</text>
<text transform="translate(428.0 390.2) scale(1 1.1)" font-size="15.30" text-anchor="end" fill="#000" stroke="#000" stroke-width="0.30">Posterior</text>
<rect x="41.8" y="415.5" width="390.1" height="17.5" fill="#a7a7a7"/>
<rect x="56.7" y="412.2" width="257.3" height="3.6" fill="#231f20"/>
<rect x="314.0" y="409.3" width="106.0" height="9.0" fill="#9b4f96"/>
<line x1="195.0" y1="380.5" x2="153.7" y2="414.0" stroke="#231f20" stroke-width="1.10"/>
<line x1="195.0" y1="380.5" x2="172.0" y2="414.0" stroke="#231f20" stroke-width="1.10"/>
<line x1="195.0" y1="380.5" x2="221.2" y2="414.0" stroke="#231f20" stroke-width="1.10"/>
<line x1="272.7" y1="380.5" x2="259.5" y2="414.0" stroke="#231f20" stroke-width="1.10"/>
<line x1="272.7" y1="380.5" x2="273.0" y2="414.0" stroke="#231f20" stroke-width="1.10"/>
<line x1="272.7" y1="380.5" x2="291.8" y2="414.0" stroke="#231f20" stroke-width="1.10"/>
<line x1="272.7" y1="380.5" x2="317.0" y2="414.0" stroke="#231f20" stroke-width="1.10"/>
<circle cx="195.0" cy="380.5" r="12" fill="#231f20"/>
<circle cx="272.7" cy="380.5" r="12" fill="#231f20"/>
<circle cx="153.7" cy="414.0" r="4.6" fill="#6dbf4b" stroke="#2a8a3a" stroke-width="1.3"/>
<circle cx="172.0" cy="414.0" r="4.6" fill="#6dbf4b" stroke="#2a8a3a" stroke-width="1.3"/>
<circle cx="221.2" cy="414.0" r="4.6" fill="#6dbf4b" stroke="#2a8a3a" stroke-width="1.3"/>
<circle cx="259.5" cy="414.0" r="4.6" fill="#6dbf4b" stroke="#2a8a3a" stroke-width="1.3"/>
<circle cx="273.0" cy="414.0" r="4.6" fill="#6dbf4b" stroke="#2a8a3a" stroke-width="1.3"/>
<circle cx="291.8" cy="414.0" r="4.6" fill="#6dbf4b" stroke="#2a8a3a" stroke-width="1.3"/>
<circle cx="317.0" cy="414.0" r="4.6" fill="#6dbf4b" stroke="#2a8a3a" stroke-width="1.3"/>
<rect x="150.0" y="434.9" width="71.0" height="12.5" fill="url(#gband)"/>
<rect x="251.0" y="434.9" width="69.0" height="12.5" fill="url(#gband)"/>
<line x1="57.0" y1="433.9" x2="420.6" y2="433.9" stroke="#231f20" stroke-width="2.60"/>
<line x1="58.2" y1="432.7" x2="58.2" y2="454.4" stroke="#231f20" stroke-width="2.60"/>
<line x1="94.3" y1="432.7" x2="94.3" y2="443.2" stroke="#231f20" stroke-width="2.60"/>
<line x1="130.4" y1="432.7" x2="130.4" y2="443.2" stroke="#231f20" stroke-width="2.60"/>
<line x1="166.6" y1="432.7" x2="166.6" y2="443.2" stroke="#231f20" stroke-width="2.60"/>
<line x1="202.7" y1="432.7" x2="202.7" y2="443.2" stroke="#231f20" stroke-width="2.60"/>
<line x1="238.8" y1="432.7" x2="238.8" y2="454.4" stroke="#231f20" stroke-width="2.60"/>
<line x1="274.9" y1="432.7" x2="274.9" y2="443.2" stroke="#231f20" stroke-width="2.60"/>
<line x1="311.0" y1="432.7" x2="311.0" y2="443.2" stroke="#231f20" stroke-width="2.60"/>
<line x1="347.2" y1="432.7" x2="347.2" y2="443.2" stroke="#231f20" stroke-width="2.60"/>
<line x1="383.3" y1="432.7" x2="383.3" y2="443.2" stroke="#231f20" stroke-width="2.60"/>
<line x1="419.4" y1="432.7" x2="419.4" y2="454.4" stroke="#231f20" stroke-width="2.60"/>
<text transform="translate(74.3 448.0) scale(1 1.1)" font-size="15.30" text-anchor="middle" fill="#000" stroke="#000" stroke-width="0.30">1</text>
<text transform="translate(222.0 448.0) scale(1 1.1)" font-size="15.30" text-anchor="middle" fill="#000" stroke="#000" stroke-width="0.30">5</text>
<text transform="translate(402.8 448.0) scale(1 1.1)" font-size="15.30" text-anchor="middle" fill="#000" stroke="#000" stroke-width="0.30">10</text>
<text transform="translate(163.7 468.5) scale(1 1.1)" font-size="15.30" text-anchor="middle" fill="#000" stroke="#000" stroke-width="0.30">30</text>
<text transform="translate(239.0 468.5) scale(1 1.1)" font-size="15.30" text-anchor="middle" fill="#000" stroke="#000" stroke-width="0.30">50</text>
<text transform="translate(308.6 468.5) scale(1 1.1)" font-size="15.30" text-anchor="middle" fill="#000" stroke="#000" stroke-width="0.30">70</text>
<text transform="translate(238.6 484.0) scale(1 1.1)" font-size="15.50" text-anchor="middle" fill="#1a1a1a" stroke="#1a1a1a" stroke-width="0.30">Position in embryo along AP axis (%)</text>
<text transform="translate(484.0 18.2) scale(1 1.1)" font-size="19.50" font-weight="bold" fill="#000" stroke="#000" stroke-width="0.30">B</text>
<text transform="translate(606.1 79.1) scale(1 1.05)" font-size="19.60" text-anchor="middle" fill="#000" stroke="#000" stroke-width="0.30">Model</text>
<rect x="511.5" y="102.4" width="183.9" height="54.9" fill="#fff" stroke="#6b6b6b" stroke-width="1"/>
<text transform="translate(516.4 116.9) scale(1 1.1)" font-size="15.40" fill="#1a1a1a" stroke="#1a1a1a" stroke-width="0.30">Boundary</text>
<line x1="611.0" y1="113.6" x2="639.2" y2="113.6" stroke="#000" stroke-width="2.20"/>
<text transform="translate(643.8 118.2) scale(1 1.1)" font-size="14.60" fill="#1a1a1a" stroke="#1a1a1a" stroke-width="0.30">70%</text>
<line x1="514.0" y1="130.6" x2="542.8" y2="130.6" stroke="#5bc5e4" stroke-width="1.60" stroke-dasharray="5 2.5 1.5 2.5"/>
<text transform="translate(550.9 135.5) scale(1 1.1)" font-size="14.60" fill="#1a1a1a" stroke="#1a1a1a" stroke-width="0.30">50%</text>
<line x1="611.0" y1="130.2" x2="639.2" y2="130.2" stroke="#ee2a2c" stroke-width="1.80" stroke-dasharray="9 3.5"/>
<text transform="translate(643.8 134.8) scale(1 1.1)" font-size="14.60" fill="#1a1a1a" stroke="#1a1a1a" stroke-width="0.30">75%</text>
<line x1="514.0" y1="146.3" x2="542.8" y2="146.3" stroke="#67bd45" stroke-width="1.60" stroke-dasharray="7 2.5 1.5 2.5"/>
<text transform="translate(550.9 150.5) scale(1 1.1)" font-size="14.60" fill="#1a1a1a" stroke="#1a1a1a" stroke-width="0.30">65%</text>
<line x1="611.0" y1="146.3" x2="639.2" y2="146.3" stroke="#e8872d" stroke-width="1.60" stroke-dasharray="5 3"/>
<text transform="translate(643.8 150.8) scale(1 1.1)" font-size="14.60" fill="#1a1a1a" stroke="#1a1a1a" stroke-width="0.30">80%</text>
<line x1="591.6" y1="189.0" x2="591.6" y2="338.8" stroke="#000" stroke-width="1.10" stroke-dasharray="3.6 2.4"/>
<line x1="626.2" y1="256.0" x2="626.2" y2="338.8" stroke="#8e2fb0" stroke-width="1.60" stroke-dasharray="1.4 1.4"/>
<path d="M521.50 300.73 L523.00 299.36 L524.50 297.98 L526.00 296.60 L527.50 295.20 L529.00 293.79 L530.50 292.36 L532.00 290.93 L533.50 289.48 L535.00 288.02 L536.50 286.55 L538.00 285.07 L539.50 283.57 L541.00 282.06 L542.50 280.54 L544.00 279.00 L545.50 277.46 L547.00 275.90 L548.50 274.32 L550.00 272.73 L551.50 271.13 L553.00 269.52 L554.50 267.89 L556.00 266.25 L557.50 264.60 L559.00 262.93 L560.50 261.24 L562.00 259.55 L563.50 257.83 L565.00 256.11 L566.50 254.37 L568.00 252.61 L569.50 250.84 L571.00 249.06 L572.50 247.26 L574.00 245.44 L575.50 243.61 L577.00 241.76 L578.50 239.90 L580.00 238.02 L581.50 236.13 L583.00 234.22 L584.50 232.29 L586.00 230.35 L587.50 228.40 L589.00 226.42 L590.50 224.43 L592.00 222.42 L593.50 220.40 L595.00 218.35 L596.50 216.29 L598.00 214.22 L599.50 212.12 L601.00 210.01 L602.50 207.88 L604.00 205.73 L605.50 203.57 L607.00 201.38 L608.50 199.18 L610.00 196.96 L611.50 194.72 L613.00 192.46 L614.50 190.19 L616.00 187.89 L616.70 186.80" fill="none" stroke="#5bc5e4" stroke-width="1.7" stroke-dasharray="4.5 2 2 2"/>
<path d="M521.50 321.97 L523.00 321.41 L524.50 320.84 L526.00 320.25 L527.50 319.66 L529.00 319.05 L530.50 318.43 L532.00 317.80 L533.50 317.15 L535.00 316.49 L536.50 315.81 L538.00 315.12 L539.50 314.42 L541.00 313.70 L542.50 312.97 L544.00 312.22 L545.50 311.45 L547.00 310.67 L548.50 309.87 L550.00 309.05 L551.50 308.22 L553.00 307.37 L554.50 306.50 L556.00 305.61 L557.50 304.71 L559.00 303.78 L560.50 302.84 L562.00 301.87 L563.50 300.89 L565.00 299.88 L566.50 298.85 L568.00 297.80 L569.50 296.73 L571.00 295.64 L572.50 294.52 L574.00 293.38 L575.50 292.21 L577.00 291.02 L578.50 289.81 L580.00 288.56 L581.50 287.30 L583.00 286.00 L584.50 284.68 L586.00 283.33 L587.50 281.95 L589.00 280.54 L590.50 279.10 L592.00 277.63 L593.50 276.13 L595.00 274.60 L596.50 273.04 L598.00 271.44 L599.50 269.81 L601.00 268.14 L602.50 266.44 L604.00 264.71 L605.50 262.93 L607.00 261.12 L608.50 259.27 L610.00 257.38 L611.50 255.45 L613.00 253.48 L614.50 251.47 L616.00 249.41 L617.50 247.31 L619.00 245.17 L620.50 242.98 L622.00 240.75 L623.50 238.46 L625.00 236.13 L626.50 233.75 L628.00 231.32 L629.50 228.84 L631.00 226.30 L632.50 223.71 L634.00 221.07 L635.50 218.37 L637.00 215.61 L638.50 212.80 L640.00 209.92 L641.50 206.98 L643.00 203.98 L644.50 200.92 L646.00 197.79 L647.50 194.60 L649.00 191.34 L650.50 188.01 L651.03 186.80" fill="none" stroke="#67bd45" stroke-width="1.7" stroke-dasharray="8 2.5 2.5 2.5"/>
<path d="M521.50 328.84 L523.00 328.60 L524.50 328.35 L526.00 328.09 L527.50 327.83 L529.00 327.56 L530.50 327.28 L532.00 327.00 L533.50 326.70 L535.00 326.40 L536.50 326.09 L538.00 325.76 L539.50 325.43 L541.00 325.09 L542.50 324.74 L544.00 324.38 L545.50 324.01 L547.00 323.63 L548.50 323.24 L550.00 322.83 L551.50 322.42 L553.00 321.99 L554.50 321.55 L556.00 321.10 L557.50 320.63 L559.00 320.15 L560.50 319.66 L562.00 319.15 L563.50 318.62 L565.00 318.09 L566.50 317.53 L568.00 316.96 L569.50 316.38 L571.00 315.77 L572.50 315.15 L574.00 314.51 L575.50 313.85 L577.00 313.18 L578.50 312.48 L580.00 311.76 L581.50 311.03 L583.00 310.27 L584.50 309.49 L586.00 308.68 L587.50 307.86 L589.00 307.00 L590.50 306.13 L592.00 305.23 L593.50 304.30 L595.00 303.34 L596.50 302.36 L598.00 301.35 L599.50 300.31 L601.00 299.24 L602.50 298.14 L604.00 297.01 L605.50 295.84 L607.00 294.64 L608.50 293.40 L610.00 292.13 L611.50 290.82 L613.00 289.48 L614.50 288.09 L616.00 286.67 L617.50 285.20 L619.00 283.69 L620.50 282.14 L622.00 280.54 L623.50 278.89 L625.00 277.20 L626.50 275.46 L628.00 273.66 L629.50 271.82 L631.00 269.92 L632.50 267.97 L634.00 265.96 L635.50 263.89 L637.00 261.76 L638.50 259.57 L640.00 257.31 L641.50 254.99 L643.00 252.60 L644.50 250.15 L646.00 247.62 L647.50 245.02 L649.00 242.34 L650.50 239.58 L652.00 236.75 L653.50 233.83 L655.00 230.83 L656.50 227.74 L658.00 224.56 L659.50 221.29 L661.00 217.92 L662.50 214.45 L664.00 210.89 L665.50 207.22 L667.00 203.44 L668.50 199.56 L670.00 195.56 L671.50 191.44 L673.00 187.21 L673.14 186.80" fill="none" stroke="#ee2a2c" stroke-width="1.8" stroke-dasharray="10 4"/>
<path d="M521.50 331.03 L523.00 330.89 L524.50 330.74 L526.00 330.59 L527.50 330.43 L529.00 330.27 L530.50 330.10 L532.00 329.93 L533.50 329.75 L535.00 329.57 L536.50 329.38 L538.00 329.18 L539.50 328.97 L541.00 328.76 L542.50 328.55 L544.00 328.32 L545.50 328.09 L547.00 327.85 L548.50 327.60 L550.00 327.34 L551.50 327.08 L553.00 326.80 L554.50 326.52 L556.00 326.23 L557.50 325.93 L559.00 325.62 L560.50 325.29 L562.00 324.96 L563.50 324.62 L565.00 324.26 L566.50 323.89 L568.00 323.51 L569.50 323.12 L571.00 322.71 L572.50 322.30 L574.00 321.86 L575.50 321.42 L577.00 320.95 L578.50 320.48 L580.00 319.98 L581.50 319.47 L583.00 318.95 L584.50 318.40 L586.00 317.84 L587.50 317.26 L589.00 316.66 L590.50 316.04 L592.00 315.40 L593.50 314.74 L595.00 314.05 L596.50 313.35 L598.00 312.62 L599.50 311.86 L601.00 311.08 L602.50 310.28 L604.00 309.44 L605.50 308.58 L607.00 307.69 L608.50 306.78 L610.00 305.83 L611.50 304.85 L613.00 303.83 L614.50 302.79 L616.00 301.71 L617.50 300.59 L619.00 299.43 L620.50 298.24 L622.00 297.01 L623.50 295.74 L625.00 294.42 L626.50 293.06 L628.00 291.66 L629.50 290.21 L631.00 288.71 L632.50 287.16 L634.00 285.56 L635.50 283.90 L637.00 282.19 L638.50 280.43 L640.00 278.60 L641.50 276.72 L643.00 274.77 L644.50 272.76 L646.00 270.68 L647.50 268.53 L649.00 266.31 L650.50 264.01 L652.00 261.64 L653.50 259.20 L655.00 256.67 L656.50 254.05 L658.00 251.35 L659.50 248.56 L661.00 245.67 L662.50 242.69 L664.00 239.62 L665.50 236.43 L667.00 233.15 L668.50 229.75 L670.00 226.24 L671.50 222.62 L673.00 218.87 L674.50 215.00 L676.00 211.00 L677.50 206.87 L679.00 202.60 L680.50 198.19 L682.00 193.63 L683.50 188.92 L684.15 186.80" fill="none" stroke="#e8872d" stroke-width="1.8" stroke-dasharray="6 3.5"/>
<line x1="568.5" y1="338.8" x2="672.9" y2="186.8" stroke="#8e3fb5" stroke-width="1.50"/>
<path d="M521.50 325.54 L523.00 325.15 L524.50 324.75 L526.00 324.35 L527.50 323.93 L529.00 323.50 L530.50 323.06 L532.00 322.61 L533.50 322.15 L535.00 321.68 L536.50 321.20 L538.00 320.70 L539.50 320.19 L541.00 319.67 L542.50 319.14 L544.00 318.60 L545.50 318.04 L547.00 317.47 L548.50 316.88 L550.00 316.28 L551.50 315.66 L553.00 315.03 L554.50 314.38 L556.00 313.72 L557.50 313.04 L559.00 312.35 L560.50 311.63 L562.00 310.90 L563.50 310.15 L565.00 309.39 L566.50 308.60 L568.00 307.80 L569.50 306.97 L571.00 306.13 L572.50 305.26 L574.00 304.37 L575.50 303.47 L577.00 302.53 L578.50 301.58 L580.00 300.60 L581.50 299.60 L583.00 298.57 L584.50 297.52 L586.00 296.45 L587.50 295.34 L589.00 294.21 L590.50 293.05 L592.00 291.86 L593.50 290.65 L595.00 289.40 L596.50 288.12 L598.00 286.82 L599.50 285.48 L601.00 284.10 L602.50 282.69 L604.00 281.25 L605.50 279.77 L607.00 278.26 L608.50 276.71 L610.00 275.12 L611.50 273.49 L613.00 271.82 L614.50 270.11 L616.00 268.36 L617.50 266.57 L619.00 264.73 L620.50 262.84 L622.00 260.91 L623.50 258.94 L625.00 256.91 L626.50 254.83 L628.00 252.71 L629.50 250.53 L631.00 248.29 L632.50 246.00 L634.00 243.66 L635.50 241.26 L637.00 238.80 L638.50 236.27 L640.00 233.69 L641.50 231.04 L643.00 228.33 L644.50 225.55 L646.00 222.70 L647.50 219.78 L649.00 216.79 L650.50 213.73 L652.00 210.59 L653.50 207.38 L655.00 204.08 L656.50 200.71 L658.00 197.25 L659.50 193.70 L661.00 190.07 L662.32 186.80" fill="none" stroke="#1a1a1a" stroke-width="2.3"/>
<line x1="543.6" y1="186.8" x2="543.6" y2="339.2" stroke="#333" stroke-width="1.00"/>
<line x1="543.1" y1="338.6" x2="680.7" y2="338.6" stroke="#333" stroke-width="1.00"/>
<line x1="543.6" y1="187.1" x2="547.6" y2="187.1" stroke="#333" stroke-width="1.00"/>
<line x1="543.6" y1="217.4" x2="547.6" y2="217.4" stroke="#333" stroke-width="1.00"/>
<line x1="543.6" y1="247.7" x2="547.6" y2="247.7" stroke="#333" stroke-width="1.00"/>
<line x1="543.6" y1="278.0" x2="547.6" y2="278.0" stroke="#333" stroke-width="1.00"/>
<line x1="543.6" y1="308.6" x2="547.6" y2="308.6" stroke="#333" stroke-width="1.00"/>
<line x1="556.9" y1="338.6" x2="556.9" y2="334.6" stroke="#333" stroke-width="1.00"/>
<line x1="591.7" y1="338.6" x2="591.7" y2="334.6" stroke="#333" stroke-width="1.00"/>
<line x1="626.3" y1="338.6" x2="626.3" y2="334.6" stroke="#333" stroke-width="1.00"/>
<line x1="661.1" y1="338.6" x2="661.1" y2="334.6" stroke="#333" stroke-width="1.00"/>
<text transform="translate(540.0 223.4) scale(1 1.1)" font-size="15.30" text-anchor="end" fill="#1a1a1a" stroke="#1a1a1a" stroke-width="0.30">40</text>
<text transform="translate(540.0 284.8) scale(1 1.1)" font-size="15.30" text-anchor="end" fill="#1a1a1a" stroke="#1a1a1a" stroke-width="0.30">20</text>
<text transform="translate(591.7 354.8) scale(1 1.1)" font-size="15.30" text-anchor="middle" fill="#1a1a1a" stroke="#1a1a1a" stroke-width="0.30">50</text>
<text transform="translate(626.3 354.8) scale(1 1.1)" font-size="15.30" text-anchor="middle" fill="#1a1a1a" stroke="#1a1a1a" stroke-width="0.30">60</text>
<text transform="translate(661.1 354.8) scale(1 1.1)" font-size="15.30" text-anchor="middle" fill="#1a1a1a" stroke="#1a1a1a" stroke-width="0.30">70</text>
<text transform="translate(587.0 212.0) rotate(-90) scale(1 1.1)" font-size="15.00" text-anchor="middle" fill="#000" stroke="#000" stroke-width="0.30">embryo</text>
<text transform="translate(605.0 212.2) rotate(-90) scale(1 1.1)" font-size="15.00" text-anchor="middle" fill="#000" stroke="#000" stroke-width="0.30">center</text>
<text transform="translate(517.5 261.0) rotate(-90) scale(1 1.1)" font-size="15.30" text-anchor="middle" fill="#1a1a1a" stroke="#1a1a1a" stroke-width="0.30">Number of MT contacts</text>
<text transform="translate(605.6 377.0) scale(1 1.1)" font-size="15.55" text-anchor="middle" fill="#1a1a1a" stroke="#1a1a1a" stroke-width="0.30">Posterior centrosome</text>
<text transform="translate(606.9 392.3) scale(1 1.1)" font-size="15.55" text-anchor="middle" fill="#1a1a1a" stroke="#1a1a1a" stroke-width="0.30">position (% AP axis)</text>
<text transform="translate(3.8 508.9) scale(1 1.1)" font-size="19.80" font-weight="bold" fill="#000" stroke="#000" stroke-width="0.30">C</text>
<text transform="translate(166.4 537.6) scale(1 1.05)" font-size="19.50" text-anchor="middle" fill="#000" stroke="#000" stroke-width="0.30">YFP::αTUB, <tspan font-style="italic">C. elegans</tspan></text>
<line x1="74.3" y1="551.3" x2="74.3" y2="825.0" stroke="#777" stroke-width="1.20"/>
<line x1="73.8" y1="824.5" x2="262.2" y2="824.5" stroke="#333" stroke-width="1.20"/>
<line x1="74.3" y1="824.5" x2="78.0" y2="824.5" stroke="#777" stroke-width="1.00"/>
<line x1="74.3" y1="780.0" x2="78.0" y2="780.0" stroke="#777" stroke-width="1.00"/>
<line x1="74.3" y1="735.4" x2="78.0" y2="735.4" stroke="#777" stroke-width="1.00"/>
<line x1="74.3" y1="690.9" x2="78.0" y2="690.9" stroke="#777" stroke-width="1.00"/>
<line x1="74.3" y1="646.3" x2="78.0" y2="646.3" stroke="#777" stroke-width="1.00"/>
<line x1="74.3" y1="601.8" x2="78.0" y2="601.8" stroke="#777" stroke-width="1.00"/>
<line x1="74.3" y1="557.2" x2="78.0" y2="557.2" stroke="#777" stroke-width="1.00"/>
<line x1="162.4" y1="824.5" x2="162.4" y2="820.5" stroke="#333" stroke-width="1.00"/>
<line x1="251.6" y1="824.5" x2="251.6" y2="820.5" stroke="#333" stroke-width="1.00"/>
<text transform="translate(70.5 562.5) scale(1 1.1)" font-size="15.30" text-anchor="end" fill="#1a1a1a" stroke="#1a1a1a" stroke-width="0.30">0.12</text>
<text transform="translate(70.5 651.6) scale(1 1.1)" font-size="15.30" text-anchor="end" fill="#1a1a1a" stroke="#1a1a1a" stroke-width="0.30">0.08</text>
<text transform="translate(70.5 740.7) scale(1 1.1)" font-size="15.30" text-anchor="end" fill="#1a1a1a" stroke="#1a1a1a" stroke-width="0.30">0.04</text>
<text transform="translate(70.5 829.8) scale(1 1.1)" font-size="15.30" text-anchor="end" fill="#1a1a1a" stroke="#1a1a1a" stroke-width="0.30">0</text>
<text transform="translate(73.2 848.6) scale(1 1.1)" font-size="15.30" text-anchor="middle" fill="#1a1a1a" stroke="#1a1a1a" stroke-width="0.30">60</text>
<text transform="translate(162.4 848.6) scale(1 1.1)" font-size="15.30" text-anchor="middle" fill="#1a1a1a" stroke="#1a1a1a" stroke-width="0.30">70</text>
<text transform="translate(251.6 848.6) scale(1 1.1)" font-size="15.30" text-anchor="middle" fill="#1a1a1a" stroke="#1a1a1a" stroke-width="0.30">80</text>
<text transform="translate(161.8 868.0) scale(1 1.1)" font-size="15.55" text-anchor="middle" fill="#1a1a1a" stroke="#1a1a1a" stroke-width="0.30">Posterior centrosome</text>
<text transform="translate(162.0 886.2) scale(1 1.1)" font-size="15.55" text-anchor="middle" fill="#1a1a1a" stroke="#1a1a1a" stroke-width="0.30">position (% AP axis)</text>
<text transform="translate(11.6 700.0) rotate(-90) scale(1 1.1)" font-size="15.30" text-anchor="middle" fill="#1a1a1a" stroke="#1a1a1a" stroke-width="0.30">Density of MT contacts</text>
<text transform="translate(30.4 688.3) rotate(-90) scale(1 1.1)" font-size="15.65" text-anchor="middle" fill="#1a1a1a" stroke="#1a1a1a" stroke-width="0.30">in the active region ( /μm<tspan font-size="10" dy="-4.5">2</tspan><tspan dy="4.5">)</tspan></text>
<path d="M73.7 781.3 L79.6 767.7 L85.7 778.9 L96.6 787.8 L103.0 770.9 L114.6 780.5 L121.8 783.7 L141.1 791.8 L151.6 791.0 L165.2 780.5 L174.9 762.0 L191.0 763.6 L197.4 739.9 L204.9 716.3 L216.2 706.9 L228.9 663.8 L239.6 647.6 L245.4 634.6 L249.3 623.3 L252.5 594.4 L251.6 579.5" fill="none" stroke="#111" stroke-width="1.70" stroke-linejoin="round"/>
<path d="M66.1 781.3H81.3 M66.1 778.8V783.8 M81.3 778.8V783.8 M73.7 778.7V783.9 M71.1 778.7H76.3 M71.1 783.9H76.3 M72.8 767.7H86.4 M72.8 765.2V770.2 M86.4 765.2V770.2 M79.6 765.1V770.3 M77.0 765.1H82.2 M77.0 770.3H82.2 M79.7 778.9H91.7 M79.7 776.4V781.4 M91.7 776.4V781.4 M85.7 776.3V781.5 M83.1 776.3H88.3 M83.1 781.5H88.3 M89.8 787.8H103.4 M89.8 785.3V790.3 M103.4 785.3V790.3 M96.6 785.2V790.4 M94.0 785.2H99.2 M94.0 790.4H99.2 M94.6 770.9H111.4 M94.6 768.4V773.4 M111.4 768.4V773.4 M103.0 768.3V773.5 M100.4 768.3H105.6 M100.4 773.5H105.6 M106.2 780.5H123.0 M106.2 778.0V783.0 M123.0 778.0V783.0 M114.6 777.9V783.1 M112.0 777.9H117.2 M112.0 783.1H117.2 M113.0 783.7H130.6 M113.0 781.2V786.2 M130.6 781.2V786.2 M121.8 781.1V786.3 M119.2 781.1H124.4 M119.2 786.3H124.4 M130.3 791.8H151.9 M130.3 789.3V794.3 M151.9 789.3V794.3 M141.1 789.2V794.4 M138.5 789.2H143.7 M138.5 794.4H143.7 M140.8 791.0H162.4 M140.8 788.5V793.5 M162.4 788.5V793.5 M151.6 788.4V793.6 M149.0 788.4H154.2 M149.0 793.6H154.2 M155.8 780.5H174.6 M155.8 778.0V783.0 M174.6 778.0V783.0 M165.2 777.9V783.1 M162.6 777.9H167.8 M162.6 783.1H167.8 M167.4 762.0H182.4 M167.4 759.5V764.5 M182.4 759.5V764.5 M174.9 759.4V764.6 M172.3 759.4H177.5 M172.3 764.6H177.5 M185.5 763.6H196.5 M185.5 761.1V766.1 M196.5 761.1V766.1 M191.0 761.0V766.2 M188.4 761.0H193.6 M188.4 766.2H193.6 M192.4 739.9H202.4 M192.4 737.4V742.4 M202.4 737.4V742.4 M197.4 737.3V742.5 M194.8 737.3H200.0 M194.8 742.5H200.0 M201.9 716.3H207.9 M201.9 713.8V718.8 M207.9 713.8V718.8 M204.9 713.7V718.9 M202.3 713.7H207.5 M202.3 718.9H207.5 M213.2 706.9H219.2 M213.2 704.4V709.4 M219.2 704.4V709.4 M216.2 704.3V709.5 M213.6 704.3H218.8 M213.6 709.5H218.8 M224.9 663.8H232.9 M224.9 661.3V666.3 M232.9 661.3V666.3 M228.9 661.2V666.4 M226.3 661.2H231.5 M226.3 666.4H231.5 M236.1 647.6H243.1 M236.1 645.1V650.1 M243.1 645.1V650.1 M239.6 645.0V650.2 M237.0 645.0H242.2 M237.0 650.2H242.2 M241.4 634.6H249.4 M241.4 632.1V637.1 M249.4 632.1V637.1 M245.4 631.0V638.2 M242.8 631.0H248.0 M242.8 638.2H248.0 M243.3 623.3H255.3 M243.3 620.8V625.8 M255.3 620.8V625.8 M249.3 619.7V626.9 M246.7 619.7H251.9 M246.7 626.9H251.9 M244.0 594.4H261.0 M244.0 591.9V596.9 M261.0 591.9V596.9 M252.5 590.8V598.0 M249.9 590.8H255.1 M249.9 598.0H255.1 M243.1 579.5H260.1 M243.1 577.0V582.0 M260.1 577.0V582.0 M251.6 575.9V583.1 M249.0 575.9H254.2 M249.0 583.1H254.2" fill="none" stroke="#111" stroke-width="1.15"/>
<text transform="translate(298.5 508.6) scale(1 1.1)" font-size="19.50" font-weight="bold" fill="#000" stroke="#000" stroke-width="0.30">D</text>
<text transform="translate(521.0 509.4) scale(1 1.05)" font-size="19.50" text-anchor="middle" fill="#000" stroke="#000" stroke-width="0.30">GFP::βTUB, <tspan font-style="italic">C. briggsae</tspan></text>
<text transform="translate(519.8 531.3) scale(1 1.05)" font-size="19.35" text-anchor="middle" fill="#000" stroke="#000" stroke-width="0.30">Combined cortical and mid-plane viewings</text>
<g clip-path="url(#clipD)">
<rect x="365.7" y="537.5" width="303.3" height="268.0" fill="#00008f"/>
<path d="M399.4 537.5L433.1 537.5L466.8 537.5L500.5 537.5L534.2 537.5L567.9 537.5L601.6 537.5L635.3 537.5L669.0 537.5L669.0 549.7L669.0 561.9L669.0 574.0L669.0 586.2L669.0 598.4L669.0 610.6L669.0 622.8L669.0 635.0L669.0 647.1L669.0 659.3L669.0 671.5L669.0 683.7L669.0 695.9L669.0 708.0L669.0 720.2L669.0 732.4L669.0 744.6L669.0 756.8L669.0 769.0L669.0 781.1L669.0 793.3L669.0 805.5L635.3 805.5L601.6 805.5L567.9 805.5L534.2 805.5L500.5 805.5L466.8 805.5L433.1 805.5L399.4 805.5L365.7 805.5L365.7 793.3L365.7 781.1L365.7 769.0L365.7 756.8L365.7 744.6L365.7 732.4L365.7 720.2L365.7 708.0L365.7 695.9L365.7 683.7L365.7 671.5L365.7 659.3L365.7 647.1L365.7 635.0L365.7 622.8L365.7 610.6L365.7 598.4L365.7 586.2L365.7 574.0L365.7 561.9L365.7 549.7L365.7 537.5Z" fill="#0000af" fill-rule="evenodd"/>
<path d="M399.4 537.5L433.1 537.5L466.8 537.5L500.5 537.5L534.2 537.5L567.9 537.5L601.6 537.5L635.3 537.5L669.0 537.5L669.0 549.7L669.0 561.9L669.0 574.0L669.0 586.2L669.0 598.4L669.0 610.6L669.0 622.8L669.0 635.0L669.0 647.1L669.0 659.3L669.0 671.5L669.0 683.7L669.0 695.9L669.0 708.0L669.0 720.2L669.0 732.4L669.0 744.6L669.0 756.8L669.0 769.0L669.0 781.1L669.0 793.3L669.0 805.5L669.0 805.5L635.3 805.5L601.6 805.5L567.9 805.5L534.2 805.5L500.5 805.5L466.8 805.5L433.1 805.5L399.4 805.5L369.3 805.5L365.7 800.9L365.7 793.3L365.7 781.1L365.7 769.0L365.7 756.8L365.7 744.6L365.7 732.4L365.7 720.2L365.7 708.0L365.7 695.9L365.7 683.7L365.7 671.5L365.7 659.3L365.7 647.1L365.7 635.0L365.7 622.8L365.7 610.6L365.7 598.4L365.7 586.2L365.7 574.0L365.7 561.9L365.7 549.7L365.7 537.5Z" fill="#0000cf" fill-rule="evenodd"/>
<path d="M399.4 537.5L433.1 537.5L466.8 537.5L500.5 537.5L534.2 537.5L567.9 537.5L601.6 537.5L635.3 537.5L669.0 537.5L669.0 549.7L669.0 561.9L669.0 574.0L669.0 586.2L669.0 598.4L669.0 610.6L669.0 622.8L669.0 635.0L669.0 647.1L669.0 659.3L669.0 671.5L669.0 683.7L669.0 695.9L669.0 708.0L669.0 720.2L669.0 732.4L669.0 744.6L669.0 756.8L669.0 769.0L669.0 781.1L669.0 793.3L669.0 799.4L661.7 805.5L635.3 805.5L601.6 805.5L567.9 805.5L534.2 805.5L500.5 805.5L466.8 805.5L433.1 805.5L399.4 805.5L375.3 805.5L365.7 793.3L365.7 793.3L365.7 781.1L365.7 769.0L365.7 756.8L365.7 744.6L365.7 732.4L365.7 720.2L365.7 708.0L365.7 695.9L365.7 683.7L365.7 671.5L365.7 659.3L365.7 647.1L365.7 635.0L365.7 622.8L365.7 610.6L365.7 598.4L365.7 586.2L365.7 574.0L365.7 561.9L365.7 549.7L365.7 537.5Z" fill="#0000ef" fill-rule="evenodd"/>
<path d="M399.4 537.5L433.1 537.5L466.8 537.5L500.5 537.5L534.2 537.5L567.9 537.5L601.6 537.5L635.3 537.5L669.0 537.5L669.0 549.7L669.0 561.9L669.0 574.0L669.0 586.2L669.0 598.4L669.0 610.6L669.0 622.8L669.0 635.0L669.0 647.1L669.0 659.3L669.0 671.5L669.0 683.7L669.0 695.9L669.0 708.0L669.0 720.2L669.0 732.4L669.0 732.4L669.0 732.4L669.0 744.6L669.0 756.8L669.0 769.0L669.0 781.1L669.0 793.3L669.0 793.3L654.3 805.5L635.3 805.5L601.6 805.5L567.9 805.5L534.2 805.5L500.5 805.5L466.8 805.5L433.1 805.5L399.4 805.5L381.3 805.5L371.9 793.3L365.7 781.1L365.7 781.1L365.7 769.0L365.7 756.8L365.7 744.6L365.7 744.6L365.7 732.4L365.7 720.2L365.7 708.0L365.7 708.0L365.7 695.9L365.7 683.7L365.7 671.5L365.7 659.3L365.7 647.1L365.7 635.0L365.7 622.8L365.7 610.6L365.7 598.4L365.7 586.2L365.7 574.0L365.7 561.9L365.7 549.7L365.7 537.5Z" fill="#0010ff" fill-rule="evenodd"/>
<path d="M399.4 537.5L433.1 537.5L466.8 537.5L500.5 537.5L534.2 537.5L567.9 537.5L601.6 537.5L635.3 537.5L669.0 537.5L669.0 549.7L669.0 561.9L669.0 574.0L669.0 586.2L669.0 598.4L669.0 610.6L669.0 622.8L669.0 635.0L669.0 647.1L669.0 659.3L669.0 671.5L669.0 683.7L669.0 695.9L669.0 708.0L669.0 720.2L669.0 727.3L664.0 732.4L669.0 736.5L669.0 744.6L669.0 756.8L669.0 769.0L669.0 781.1L669.0 787.2L660.6 793.3L647.0 805.5L635.3 805.5L601.6 805.5L567.9 805.5L534.2 805.5L500.5 805.5L466.8 805.5L433.1 805.5L399.4 805.5L387.4 805.5L378.2 793.3L371.7 781.1L367.8 769.0L368.5 756.8L369.9 744.6L369.6 732.4L368.9 720.2L368.5 708.0L366.7 695.9L365.7 692.4L365.7 683.7L365.7 671.5L365.7 659.3L365.7 647.1L365.7 635.0L365.7 622.8L365.7 610.6L365.7 598.4L365.7 586.2L365.7 574.0L365.7 561.9L365.7 549.7L365.7 537.5Z" fill="#0030ff" fill-rule="evenodd"/>
<path d="M399.4 537.5L433.1 537.5L466.8 537.5L500.5 537.5L534.2 537.5L567.9 537.5L601.6 537.5L635.3 537.5L669.0 537.5L669.0 549.7L669.0 561.9L669.0 574.0L669.0 586.2L669.0 598.4L669.0 610.6L669.0 622.8L669.0 635.0L669.0 647.1L669.0 659.3L669.0 671.5L669.0 683.7L669.0 695.9L669.0 708.0L669.0 720.2L669.0 722.3L659.1 732.4L669.0 740.5L669.0 744.6L669.0 756.8L669.0 769.0L669.0 781.1L669.0 781.1L652.1 793.3L639.7 805.5L635.3 805.5L601.6 805.5L567.9 805.5L534.2 805.5L500.5 805.5L466.8 805.5L433.1 805.5L399.4 805.5L393.4 805.5L384.4 793.3L377.7 781.1L373.1 769.0L373.2 756.8L374.1 744.6L373.5 732.4L372.2 720.2L371.3 708.0L369.2 695.9L365.7 683.7L365.7 683.7L365.7 671.5L365.7 659.3L365.7 647.1L365.7 635.0L365.7 622.8L365.7 610.6L365.7 598.4L365.7 586.2L365.7 574.0L365.7 561.9L365.7 549.7L365.7 537.5Z" fill="#0050ff" fill-rule="evenodd"/>
<path d="M399.4 537.5L433.1 537.5L466.8 537.5L500.5 537.5L534.2 537.5L567.9 537.5L601.6 537.5L635.3 537.5L669.0 537.5L669.0 549.7L669.0 561.9L669.0 574.0L669.0 586.2L669.0 598.4L669.0 610.6L669.0 622.8L669.0 635.0L669.0 647.1L669.0 659.3L669.0 671.5L669.0 683.7L669.0 695.9L669.0 708.0L669.0 711.1L663.9 720.2L654.1 732.4L669.0 744.6L669.0 744.6L669.0 756.8L669.0 769.0L669.0 775.0L660.6 781.1L643.7 793.3L635.3 802.0L631.3 805.5L601.6 805.5L567.9 805.5L534.2 805.5L500.5 805.5L466.8 805.5L433.1 805.5L399.4 805.5L399.4 805.5L390.7 793.3L383.8 781.1L378.3 769.0L377.9 756.8L378.3 744.6L377.5 732.4L375.4 720.2L374.1 708.0L371.7 695.9L368.2 683.7L365.7 676.1L365.7 671.5L365.7 659.3L365.7 647.1L365.7 635.0L365.7 622.8L365.7 610.6L365.7 598.4L365.7 586.2L365.7 574.0L365.7 561.9L365.7 549.7L365.7 537.5Z" fill="#0070ff" fill-rule="evenodd"/>
<path d="M399.4 537.5L433.1 537.5L466.8 537.5L500.5 537.5L534.2 537.5L567.9 537.5L601.6 537.5L635.3 537.5L669.0 537.5L669.0 549.7L669.0 561.9L669.0 574.0L669.0 586.2L669.0 598.4L669.0 610.6L669.0 622.8L669.0 635.0L669.0 647.1L669.0 659.3L669.0 671.5L669.0 683.7L669.0 695.9L669.0 703.2L664.2 708.0L655.5 720.2L649.2 732.4L662.3 744.6L669.0 747.6L669.0 756.8L669.0 769.0L669.0 769.0L652.1 781.1L635.3 793.3L635.3 793.3L621.4 805.5L601.6 805.5L567.9 805.5L534.2 805.5L500.5 805.5L466.8 805.5L433.1 805.5L407.8 805.5L399.4 796.8L396.9 793.3L389.8 781.1L383.6 769.0L382.5 756.8L382.5 744.6L381.4 732.4L378.7 720.2L376.9 708.0L374.3 695.9L370.7 683.7L366.7 671.5L365.7 659.3L365.7 659.3L365.7 647.1L365.7 635.0L365.7 622.8L365.7 610.6L365.7 598.4L365.7 586.2L365.7 574.0L365.7 561.9L365.7 551.3L367.1 549.7L365.7 547.7L365.7 537.5Z" fill="#008fff" fill-rule="evenodd"/>
<path d="M399.4 537.5L433.1 537.5L466.8 537.5L500.5 537.5L532.7 537.5L534.2 538.9L535.6 537.5L567.9 537.5L601.6 537.5L635.3 537.5L669.0 537.5L669.0 549.7L669.0 561.9L669.0 574.0L669.0 586.2L669.0 598.4L669.0 610.6L669.0 622.8L669.0 635.0L669.0 647.1L669.0 659.3L669.0 671.5L669.0 683.7L669.0 695.9L669.0 697.1L658.2 708.0L647.1 720.2L644.2 732.4L655.5 744.6L669.0 750.7L669.0 756.8L669.0 764.9L660.6 769.0L643.7 781.1L635.3 787.2L614.2 793.3L611.5 805.5L601.6 805.5L567.9 805.5L534.2 805.5L500.5 805.5L466.8 805.5L433.1 805.5L416.2 805.5L404.5 793.3L399.4 787.2L395.8 781.1L388.9 769.0L387.2 756.8L386.8 744.6L385.3 732.4L381.9 720.2L379.7 708.0L376.8 695.9L373.1 683.7L369.3 671.5L367.9 659.3L365.7 654.2L365.7 647.1L365.7 635.0L365.7 622.8L365.7 610.6L365.7 598.4L365.7 586.2L365.7 574.0L365.7 561.9L365.7 555.4L370.7 549.7L365.7 542.6L365.7 537.5ZM530.2 781.1L534.2 793.3L534.2 793.3L534.2 793.3L538.2 781.1L534.2 780.0Z" fill="#00afff" fill-rule="evenodd"/>
<path d="M399.4 537.5L433.1 537.5L466.8 537.5L500.5 537.5L528.8 537.5L534.2 542.5L539.2 537.5L567.9 537.5L601.6 537.5L635.3 537.5L669.0 537.5L669.0 549.7L669.0 561.9L669.0 574.0L669.0 586.2L669.0 598.4L669.0 610.6L669.0 622.8L669.0 635.0L669.0 647.1L669.0 659.3L669.0 671.5L669.0 683.7L669.0 691.0L665.5 695.9L652.1 708.0L638.7 720.2L639.3 732.4L648.8 744.6L669.0 753.7L669.0 756.8L669.0 760.8L652.1 769.0L635.3 781.1L635.3 781.1L601.6 791.3L592.0 793.3L601.6 805.5L567.9 805.5L534.2 805.5L551.0 793.3L548.1 781.1L534.2 777.1L520.3 781.1L522.2 793.3L534.2 805.5L500.5 805.5L466.8 805.5L433.1 805.5L424.7 805.5L412.9 793.3L402.5 781.1L399.4 777.7L394.1 769.0L391.9 756.8L391.0 744.6L389.2 732.4L385.1 720.2L382.5 708.0L379.3 695.9L375.6 683.7L371.9 671.5L370.2 659.3L365.7 649.2L365.7 647.1L365.7 641.0L366.6 635.0L365.7 632.5L365.7 622.8L365.7 610.6L365.7 610.6L365.7 610.6L365.7 598.4L365.7 586.2L365.7 574.0L365.7 561.9L365.7 559.4L374.3 549.7L365.7 537.5ZM534.2 720.2L534.2 720.2L534.2 720.2L534.2 720.2ZM601.6 720.2L601.6 720.2L601.6 720.2L601.6 720.2Z" fill="#00cfff" fill-rule="evenodd"/>
<path d="M399.4 537.5L433.1 537.5L466.8 537.5L500.5 537.5L525.0 537.5L534.2 546.1L542.8 537.5L567.9 537.5L601.6 537.5L635.3 537.5L655.5 537.5L669.0 549.7L669.0 549.7L669.0 561.9L669.0 574.0L669.0 586.2L669.0 598.4L669.0 610.6L669.0 622.8L669.0 635.0L669.0 647.1L669.0 659.3L669.0 671.5L669.0 683.7L669.0 684.9L661.2 695.9L646.1 708.0L635.3 717.2L601.6 715.2L567.9 717.8L534.2 713.5L510.1 720.2L534.2 730.4L567.9 722.0L601.6 727.0L628.6 732.4L635.3 734.4L642.0 744.6L669.0 756.8L643.7 769.0L635.3 775.0L618.5 781.1L601.6 786.2L567.9 793.3L558.0 781.1L534.2 774.2L510.4 781.1L510.1 793.3L506.1 805.5L500.5 805.5L466.8 805.5L433.1 805.5L433.1 805.5L421.3 793.3L410.1 781.1L399.4 769.0L399.4 769.0L396.6 756.8L395.2 744.6L393.1 732.4L388.4 720.2L385.4 708.0L381.8 695.9L378.1 683.7L374.5 671.5L372.4 659.3L367.1 647.1L368.8 635.0L365.7 626.4L365.7 622.8L365.7 618.2L368.4 610.6L365.7 603.0L365.7 598.4L365.7 586.2L365.7 574.0L365.7 565.3L367.2 561.9L377.9 549.7L374.1 537.5Z" fill="#00efff" fill-rule="evenodd"/>
<path d="M399.4 537.5L433.1 537.5L466.8 537.5L500.5 537.5L521.2 537.5L534.2 549.7L534.2 549.7L534.2 549.7L546.4 537.5L567.9 537.5L601.6 537.5L633.2 537.5L635.3 541.0L652.1 549.7L665.6 561.9L669.0 562.6L669.0 574.0L669.0 586.2L669.0 598.4L669.0 610.6L669.0 622.8L669.0 635.0L669.0 647.1L669.0 659.3L669.0 671.5L669.0 676.7L661.5 683.7L656.9 695.9L640.1 708.0L635.3 712.1L601.6 710.1L579.1 708.0L567.9 706.8L534.2 706.3L528.6 708.0L500.5 715.7L496.6 720.2L500.5 729.4L507.2 732.4L534.2 739.4L561.2 732.4L567.9 730.7L584.8 732.4L601.6 733.3L635.3 744.6L635.3 744.6L647.9 756.8L635.3 769.0L635.3 769.0L601.6 781.1L567.9 781.1L534.2 771.3L500.5 781.1L500.5 781.1L496.8 793.3L466.8 805.5L433.1 796.8L429.7 793.3L417.8 781.1L403.0 769.0L400.7 756.8L399.4 744.6L399.4 744.6L397.0 732.4L391.6 720.2L388.2 708.0L384.3 695.9L380.6 683.7L377.1 671.5L374.7 659.3L369.6 647.1L371.0 635.0L366.8 622.8L371.1 610.6L367.0 598.4L368.2 586.2L365.7 574.0L370.9 561.9L381.5 549.7L382.5 537.5Z" fill="#10ffef" fill-rule="evenodd"/>
<path d="M399.4 537.5L433.1 537.5L466.8 537.5L500.5 537.5L517.4 537.5L526.9 549.7L534.2 557.3L539.8 549.7L550.0 537.5L567.9 537.5L601.6 537.5L627.9 537.5L635.3 549.7L635.3 549.7L657.2 561.9L669.0 564.5L669.0 574.0L669.0 586.2L669.0 598.4L669.0 610.6L669.0 622.8L669.0 622.8L669.0 622.8L669.0 635.0L669.0 647.1L669.0 659.3L669.0 668.0L665.0 671.5L652.1 683.7L652.6 695.9L635.3 707.5L601.6 705.0L567.9 700.7L534.2 697.6L500.5 708.0L500.5 708.0L490.1 720.2L490.1 732.4L500.5 735.0L530.2 744.6L534.2 748.7L543.8 744.6L567.9 737.8L601.6 737.6L622.3 744.6L632.4 756.8L621.3 769.0L601.6 776.1L567.9 769.0L567.9 769.0L534.2 766.5L525.8 769.0L500.5 773.5L483.6 781.1L478.0 793.3L466.8 797.9L450.0 793.3L433.1 788.8L425.4 781.1L406.6 769.0L403.9 756.8L406.7 744.6L402.8 732.4L399.4 729.7L394.9 720.2L391.0 708.0L386.8 695.9L383.0 683.7L379.7 671.5L376.9 659.3L372.0 647.1L373.1 635.0L369.5 622.8L373.9 610.6L370.4 598.4L371.3 586.2L369.6 574.0L374.7 561.9L385.1 549.7L391.0 537.5ZM528.6 586.2L534.2 588.5L537.2 586.2L534.2 580.1Z" fill="#30ffcf" fill-rule="evenodd"/>
<path d="M399.4 537.5L399.4 537.5L433.1 537.5L466.8 537.5L500.5 537.5L513.5 537.5L519.5 549.7L520.7 561.9L517.4 574.0L519.2 586.2L534.2 592.3L542.1 586.2L537.3 574.0L538.2 561.9L545.4 549.7L553.6 537.5L567.9 537.5L601.6 537.5L622.7 537.5L630.9 549.7L635.3 554.4L648.8 561.9L669.0 566.4L669.0 574.0L669.0 586.2L669.0 598.4L669.0 610.6L669.0 614.1L665.4 622.8L669.0 626.4L669.0 635.0L669.0 647.1L669.0 659.3L669.0 659.3L655.1 671.5L642.8 683.7L648.3 695.9L635.3 704.6L601.6 699.9L574.6 695.9L567.9 694.8L534.2 692.4L500.5 695.1L499.6 695.9L494.9 708.0L483.6 720.2L477.2 732.4L500.5 738.2L520.3 744.6L531.6 756.8L500.5 767.2L495.7 769.0L466.8 781.1L433.1 781.1L410.2 769.0L407.2 756.8L414.1 744.6L411.2 732.4L399.4 722.9L398.1 720.2L393.8 708.0L389.3 695.9L385.5 683.7L382.3 671.5L379.2 659.3L374.4 647.1L375.3 635.0L372.2 622.8L376.6 610.6L373.8 598.4L374.4 586.2L373.5 574.0L378.4 561.9L388.6 549.7ZM601.6 742.0L609.4 744.6L625.0 756.8L607.2 769.0L601.6 771.0L592.0 769.0L567.9 760.3L545.4 756.8L567.9 744.6L567.9 744.6Z" fill="#50ffaf" fill-rule="evenodd"/>
<path d="M399.4 541.6L405.4 537.5L433.1 537.5L466.8 537.5L500.5 537.5L509.7 537.5L512.2 549.7L500.5 559.4L497.8 561.9L497.7 574.0L500.5 578.6L509.9 586.2L534.2 596.1L547.1 586.2L544.9 574.0L548.1 561.9L551.0 549.7L557.1 537.5L567.9 537.5L601.6 537.5L617.4 537.5L626.4 549.7L635.3 559.1L640.4 561.9L669.0 568.3L669.0 574.0L669.0 586.2L669.0 598.4L669.0 608.9L666.5 610.6L661.8 622.8L669.0 629.9L669.0 635.0L669.0 647.1L669.0 647.1L659.6 659.3L645.2 671.5L635.3 681.7L631.9 683.7L635.3 684.8L643.9 695.9L635.3 701.7L604.7 695.9L601.6 694.6L567.9 689.2L534.2 688.0L500.5 691.3L495.0 695.9L489.3 708.0L477.2 720.2L466.8 731.1L463.1 732.4L466.8 733.0L500.5 741.4L510.4 744.6L518.6 756.8L500.5 762.9L483.6 769.0L466.8 776.1L433.1 779.2L413.7 769.0L410.4 756.8L421.4 744.6L419.6 732.4L402.7 720.2L399.4 715.7L396.6 708.0L391.9 695.9L388.0 683.7L384.9 671.5L381.4 659.3L376.8 647.1L377.5 635.0L374.9 622.8L379.3 610.6L377.2 598.4L377.6 586.2L377.5 574.0L382.2 561.9L392.2 549.7ZM531.5 659.3L534.2 663.9L538.4 659.3L534.2 656.5ZM601.6 746.5L617.7 756.8L601.6 766.3L575.1 756.8Z" fill="#70ff8f" fill-rule="evenodd"/>
<path d="M399.4 545.6L411.4 537.5L433.1 537.5L466.8 537.5L500.5 537.5L505.9 537.5L504.9 549.7L500.5 553.3L491.1 561.9L493.0 574.0L500.5 586.2L500.5 586.2L528.6 598.4L534.2 610.6L534.2 610.6L534.2 610.6L537.0 598.4L552.0 586.2L552.6 574.0L558.0 561.9L556.7 549.7L560.7 537.5L567.9 537.5L601.6 537.5L612.1 537.5L622.0 549.7L633.1 561.9L635.3 563.6L669.0 570.2L669.0 574.0L669.0 586.2L669.0 598.4L669.0 606.0L662.4 610.6L658.2 622.8L669.0 633.5L669.0 635.0L669.0 638.4L660.6 647.1L650.3 659.3L635.3 671.5L635.3 671.5L615.1 683.7L601.6 688.6L567.9 683.7L567.9 683.7L534.2 671.5L545.4 659.3L534.2 651.8L527.1 659.3L534.2 671.5L534.2 683.7L500.5 687.5L490.5 695.9L483.6 708.0L470.7 720.2L466.8 724.3L444.3 732.4L466.8 735.9L500.5 744.6L500.5 744.6L505.7 756.8L500.5 758.5L471.6 769.0L466.8 771.0L433.1 777.3L417.3 769.0L413.7 756.8L428.7 744.6L428.0 732.4L408.1 720.2L399.4 708.0L399.4 708.0L394.4 695.9L390.5 683.7L387.5 671.5L383.7 659.3L379.2 647.1L379.7 635.0L377.7 622.8L382.0 610.6L380.5 598.4L380.7 586.2L381.4 574.0L385.9 561.9L395.8 549.7ZM635.3 690.3L639.6 695.9L635.3 698.8L620.0 695.9ZM601.6 751.2L610.4 756.8L601.6 762.0L587.2 756.8Z" fill="#8fff70" fill-rule="evenodd"/>
<path d="M433.1 537.5L466.8 537.5L500.5 537.5L502.0 537.5L500.5 543.6L496.3 549.7L484.3 561.9L488.3 574.0L496.5 586.2L500.5 592.3L514.5 598.4L528.6 610.6L534.2 615.7L540.2 610.6L544.0 598.4L557.0 586.2L560.2 574.0L567.9 561.9L567.9 561.9L567.9 561.9L562.3 549.7L564.3 537.5L567.9 537.5L601.6 537.5L606.9 537.5L617.6 549.7L627.4 561.9L635.3 568.0L669.0 572.1L669.0 574.0L669.0 586.2L669.0 598.4L669.0 603.0L658.3 610.6L654.7 622.8L663.7 635.0L652.1 647.1L640.9 659.3L635.3 663.9L601.6 669.5L567.9 671.5L552.5 659.3L534.2 647.1L534.2 647.1L534.2 647.1L522.7 659.3L518.9 671.5L500.5 683.7L500.5 683.7L485.9 695.9L478.0 708.0L466.8 718.2L463.4 720.2L433.1 731.2L413.5 720.2L405.0 708.0L399.4 702.0L396.9 695.9L393.0 683.7L390.1 671.5L385.9 659.3L381.6 647.1L381.9 635.0L380.4 622.8L384.7 610.6L383.9 598.4L383.8 586.2L385.3 574.0L389.7 561.9L399.4 549.7L399.4 549.7L417.5 537.5ZM466.8 738.8L489.3 744.6L493.3 756.8L466.8 766.3L461.7 769.0L433.1 775.4L420.9 769.0L416.9 756.8L433.1 745.5L438.7 744.6ZM601.6 755.8L603.1 756.8L601.6 757.6L599.2 756.8Z" fill="#afff50" fill-rule="evenodd"/>
<path d="M433.1 537.5L466.8 537.5L491.3 537.5L485.8 549.7L477.6 561.9L483.6 574.0L492.5 586.2L500.5 598.4L500.5 598.4L523.0 610.6L534.2 620.7L546.2 610.6L551.0 598.4L562.0 586.2L567.9 574.0L567.9 574.0L575.2 561.9L567.9 549.7L601.6 537.5L613.1 549.7L621.8 561.9L635.3 572.3L669.0 574.0L669.0 574.0L669.0 586.2L669.0 598.4L669.0 600.1L654.2 610.6L651.1 622.8L654.8 635.0L643.7 647.1L635.3 655.8L625.7 659.3L601.6 664.4L567.9 666.0L559.5 659.3L539.8 647.1L534.2 641.0L530.5 647.1L518.2 659.3L503.6 671.5L500.5 673.5L495.4 683.7L481.4 695.9L472.4 708.0L466.8 713.1L455.0 720.2L433.1 728.1L419.0 720.2L410.6 708.0L399.4 695.9L399.4 695.9L395.4 683.7L392.7 671.5L388.2 659.3L384.0 647.1L384.1 635.0L383.1 622.8L387.4 610.6L387.3 598.4L386.9 586.2L389.2 574.0L393.4 561.9L399.4 554.4L410.6 549.7L423.5 537.5ZM466.8 741.7L478.0 744.6L481.2 756.8L466.8 762.0L453.3 769.0L433.1 773.5L424.5 769.0L420.1 756.8L433.1 747.7L452.8 744.6Z" fill="#cfff30" fill-rule="evenodd"/>
<path d="M433.1 537.5L466.8 537.5L476.0 537.5L475.2 549.7L470.8 561.9L479.0 574.0L488.5 586.2L495.5 598.4L500.5 601.5L517.4 610.6L531.5 622.8L534.2 635.0L526.7 647.1L513.8 659.3L500.5 668.9L497.7 671.5L490.3 683.7L476.8 695.9L466.8 708.0L466.8 708.0L446.6 720.2L433.1 725.1L424.4 720.2L416.2 708.0L406.7 695.9L399.4 688.2L397.9 683.7L395.3 671.5L390.4 659.3L386.4 647.1L386.3 635.0L385.8 622.8L390.2 610.6L390.6 598.4L390.0 586.2L393.1 574.0L397.2 561.9L399.4 559.1L421.9 549.7L429.5 537.5ZM601.6 542.2L608.7 549.7L616.2 561.9L610.0 574.0L635.3 581.4L669.0 586.2L665.3 598.4L650.1 610.6L647.5 622.8L645.9 635.0L635.3 647.1L635.3 647.1L601.6 659.3L601.6 659.3L567.9 660.4L566.5 659.3L545.4 647.1L534.2 635.0L542.0 622.8L552.3 610.6L558.1 598.4L566.9 586.2L567.9 584.2L596.0 574.0L582.6 561.9L580.9 549.7ZM433.1 750.0L466.8 744.6L469.2 756.8L466.8 757.6L444.9 769.0L433.1 771.6L428.1 769.0L423.4 756.8Z" fill="#efff10" fill-rule="evenodd"/>
<path d="M601.6 546.9L604.3 549.7L610.6 561.9L601.6 570.0L589.9 561.9L593.8 549.7ZM399.4 566.7L433.1 561.9L466.8 564.3L474.3 574.0L484.5 586.2L490.6 598.4L500.5 604.5L511.7 610.6L527.1 622.8L530.1 635.0L523.0 647.1L509.4 659.3L500.5 665.7L494.3 671.5L485.2 683.7L472.3 695.9L466.8 702.5L455.6 708.0L438.2 720.2L433.1 722.1L429.8 720.2L421.9 708.0L414.1 695.9L403.1 683.7L399.4 678.8L397.8 671.5L392.7 659.3L388.8 647.1L388.5 635.0L388.5 622.8L392.9 610.6L394.0 598.4L393.2 586.2L397.0 574.0ZM601.6 582.2L615.1 586.2L635.3 588.8L655.9 598.4L646.0 610.6L643.9 622.8L637.1 635.0L635.3 637.0L622.3 647.1L601.6 654.6L567.9 656.8L551.0 647.1L547.2 635.0L554.9 622.8L558.3 610.6L565.1 598.4L567.9 594.3L590.4 586.2ZM433.1 752.3L457.2 756.8L436.5 769.0L433.1 769.7L431.7 769.0L426.6 756.8Z" fill="#ffef00" fill-rule="evenodd"/>
<path d="M601.6 554.6L605.0 561.9L601.6 564.9L597.2 561.9ZM433.1 568.0L466.8 570.4L469.6 574.0L480.4 586.2L485.6 598.4L500.5 607.5L506.1 610.6L522.7 622.8L526.0 635.0L519.2 647.1L504.9 659.3L500.5 662.5L490.9 671.5L480.1 683.7L467.7 695.9L466.8 697.0L444.3 708.0L433.1 716.7L427.5 708.0L421.4 695.9L412.5 683.7L401.3 671.5L399.4 669.5L394.9 659.3L391.2 647.1L390.6 635.0L391.2 622.8L395.6 610.6L397.4 598.4L396.3 586.2L399.4 577.5L409.0 574.0ZM416.2 598.4L433.1 599.3L437.7 598.4L433.1 595.1ZM601.6 587.9L635.3 593.2L646.5 598.4L641.9 610.6L640.3 622.8L635.3 630.5L628.2 635.0L609.4 647.1L601.6 649.9L567.9 653.5L556.7 647.1L560.1 635.0L567.9 622.8L567.9 622.8L567.9 622.8L564.3 610.6L567.9 604.5L572.5 598.4ZM433.1 754.5L445.1 756.8L433.1 764.4L429.9 756.8Z" fill="#ffcf00" fill-rule="evenodd"/>
<path d="M433.1 574.0L466.8 575.8L476.4 586.2L480.7 598.4L500.5 610.6L500.5 610.6L518.2 622.8L521.9 635.0L515.5 647.1L500.5 659.3L500.5 659.3L487.4 671.5L475.0 683.7L466.8 691.8L447.5 695.9L433.1 708.0L428.7 695.9L421.9 683.7L406.1 671.5L399.4 664.4L397.2 659.3L393.6 647.1L392.8 635.0L394.0 622.8L398.3 610.6L399.4 604.5L433.1 600.7L445.4 598.4L433.1 589.5L399.4 586.2ZM601.6 590.7L635.3 597.5L637.2 598.4L637.8 610.6L636.7 622.8L635.3 625.0L619.3 635.0L601.6 645.1L592.0 647.1L567.9 650.3L562.3 647.1L567.9 638.4L573.5 635.0L583.2 622.8L572.7 610.6L580.2 598.4Z" fill="#ffaf00" fill-rule="evenodd"/>
<path d="M466.8 580.1L472.4 586.2L475.7 598.4L495.7 610.6L500.5 613.6L513.8 622.8L517.8 635.0L511.7 647.1L500.5 656.3L496.6 659.3L484.0 671.5L469.9 683.7L466.8 686.7L433.1 687.7L431.2 683.7L411.0 671.5L399.4 659.3L399.4 659.3L396.0 647.1L395.0 635.0L396.7 622.8L399.4 615.2L402.5 610.6L433.1 602.1L453.0 598.4L440.6 586.2ZM601.6 593.4L624.9 598.4L627.8 610.6L610.0 622.8L610.5 635.0L601.6 640.0L587.6 635.0L598.5 622.8L584.8 610.6L587.8 598.4Z" fill="#ff8f00" fill-rule="evenodd"/>
<path d="M466.8 584.5L468.4 586.2L470.8 598.4L490.9 610.6L500.5 616.7L509.4 622.8L513.7 635.0L508.0 647.1L500.5 653.2L492.7 659.3L480.6 671.5L466.8 682.6L433.1 681.5L415.8 671.5L403.6 659.3L399.4 650.6L398.4 647.1L397.2 635.0L399.4 622.8L399.4 622.8L407.6 610.6L433.1 603.5L460.7 598.4L459.3 586.2ZM601.6 596.2L612.0 598.4L609.1 610.6L601.6 614.7L596.8 610.6L595.5 598.4Z" fill="#ff7000" fill-rule="evenodd"/>
<path d="M433.1 604.9L466.8 599.0L486.1 610.6L500.5 619.7L504.9 622.8L509.5 635.0L504.2 647.1L500.5 650.2L488.7 659.3L477.1 671.5L466.8 679.8L433.1 678.7L420.6 671.5L407.8 659.3L401.7 647.1L399.4 635.0L403.6 622.8L412.7 610.6Z" fill="#ff5000" fill-rule="evenodd"/>
<path d="M433.1 606.3L466.8 601.9L481.2 610.6L500.5 622.8L500.5 622.8L505.4 635.0L500.5 647.1L500.5 647.1L484.8 659.3L473.7 671.5L466.8 677.0L433.1 675.9L425.4 671.5L412.0 659.3L405.5 647.1L403.5 635.0L407.8 622.8L417.8 610.6Z" fill="#ff3000" fill-rule="evenodd"/>
<path d="M433.1 607.8L466.8 604.8L476.4 610.6L495.2 622.8L500.5 632.9L501.3 635.0L500.5 637.0L495.5 647.1L480.9 659.3L470.2 671.5L466.8 674.3L433.1 673.2L430.2 671.5L416.2 659.3L409.4 647.1L407.6 635.0L412.0 622.8L422.9 610.6Z" fill="#ff1000" fill-rule="evenodd"/>
<path d="M433.1 609.2L466.8 607.7L471.6 610.6L490.0 622.8L496.3 635.0L490.6 647.1L477.0 659.3L466.8 671.5L433.1 670.1L420.5 659.3L413.2 647.1L411.7 635.0L416.2 622.8L428.0 610.6Z" fill="#ef0000" fill-rule="evenodd"/>
<path d="M433.1 610.6L466.8 610.6L484.7 622.8L491.0 635.0L485.6 647.1L473.1 659.3L466.8 666.8L433.1 666.5L424.7 659.3L417.0 647.1L415.8 635.0L420.5 622.8Z" fill="#cf0000" fill-rule="evenodd"/>
<path d="M433.1 614.7L466.8 614.2L479.4 622.8L485.8 635.0L480.7 647.1L469.2 659.3L466.8 662.1L433.1 662.9L428.9 659.3L420.8 647.1L419.9 635.0L424.7 622.8Z" fill="#af0000" fill-rule="evenodd"/>
<path d="M433.1 618.7L466.8 617.8L474.2 622.8L480.5 635.0L475.7 647.1L466.8 657.1L433.1 659.3L424.7 647.1L424.1 635.0L428.9 622.8Z" fill="#8f0000" fill-rule="evenodd"/>
<path d="M466.8 621.3L468.9 622.8L475.2 635.0L470.8 647.1L466.8 651.6L433.1 653.8L428.5 647.1L428.2 635.0L433.1 622.8L433.1 622.8Z" fill="#800000" fill-rule="evenodd"/>
<path d="M433.1 632.9L466.8 628.9L470.0 635.0L466.8 644.1L450.0 647.1L433.1 648.2L432.3 647.1L432.3 635.0Z" fill="#800000" fill-rule="evenodd"/>
<path d="M369.3 805.5L365.7 800.9M669.0 805.5ZM375.3 805.5L365.7 793.3L365.7 793.3M669.0 799.4L661.7 805.5M669.0 732.4L669.0 732.4ZM365.7 744.6L365.7 744.6L365.7 732.4L365.7 720.2L365.7 708.0L365.7 708.0M669.0 793.3L669.0 793.3L654.3 805.5M381.3 805.5L371.9 793.3L365.7 781.1L365.7 781.1M669.0 727.3L664.0 732.4L669.0 736.5M669.0 787.2L660.6 793.3L647.0 805.5M387.4 805.5L378.2 793.3L371.7 781.1L367.8 769.0L368.5 756.8L369.9 744.6L369.6 732.4L368.9 720.2L368.5 708.0L366.7 695.9L365.7 692.4M669.0 722.3L659.1 732.4L669.0 740.5M669.0 781.1L669.0 781.1L652.1 793.3L639.7 805.5M393.4 805.5L384.4 793.3L377.7 781.1L373.1 769.0L373.2 756.8L374.1 744.6L373.5 732.4L372.2 720.2L371.3 708.0L369.2 695.9L365.7 683.7L365.7 683.7M669.0 711.1L663.9 720.2L654.1 732.4L669.0 744.6L669.0 744.6M669.0 775.0L660.6 781.1L643.7 793.3L635.3 802.0L631.3 805.5M399.4 805.5L399.4 805.5L390.7 793.3L383.8 781.1L378.3 769.0L377.9 756.8L378.3 744.6L377.5 732.4L375.4 720.2L374.1 708.0L371.7 695.9L368.2 683.7L365.7 676.1M365.7 551.3L367.1 549.7L365.7 547.7M669.0 703.2L664.2 708.0L655.5 720.2L649.2 732.4L662.3 744.6L669.0 747.6M669.0 769.0L669.0 769.0L652.1 781.1L635.3 793.3L635.3 793.3L621.4 805.5M407.8 805.5L399.4 796.8L396.9 793.3L389.8 781.1L383.6 769.0L382.5 756.8L382.5 744.6L381.4 732.4L378.7 720.2L376.9 708.0L374.3 695.9L370.7 683.7L366.7 671.5L365.7 659.3L365.7 659.3M532.7 537.5L534.2 538.9L535.6 537.5M365.7 555.4L370.7 549.7L365.7 542.6M669.0 697.1L658.2 708.0L647.1 720.2L644.2 732.4L655.5 744.6L669.0 750.7M669.0 764.9L660.6 769.0L643.7 781.1L635.3 787.2L614.2 793.3L611.5 805.5M416.2 805.5L404.5 793.3L399.4 787.2L395.8 781.1L388.9 769.0L387.2 756.8L386.8 744.6L385.3 732.4L381.9 720.2L379.7 708.0L376.8 695.9L373.1 683.7L369.3 671.5L367.9 659.3L365.7 654.2M534.2 780.0L530.2 781.1L534.2 793.3L534.2 793.3L534.2 793.3L538.2 781.1L534.2 780.0M528.8 537.5L534.2 542.5L539.2 537.5M365.7 559.4L374.3 549.7L365.7 537.5M365.7 610.6L365.7 610.6ZM365.7 641.0L366.6 635.0L365.7 632.5M669.0 691.0L665.5 695.9L652.1 708.0L638.7 720.2L639.3 732.4L648.8 744.6L669.0 753.7M669.0 760.8L652.1 769.0L635.3 781.1L635.3 781.1L601.6 791.3L592.0 793.3L601.6 805.5M424.7 805.5L412.9 793.3L402.5 781.1L399.4 777.7L394.1 769.0L391.9 756.8L391.0 744.6L389.2 732.4L385.1 720.2L382.5 708.0L379.3 695.9L375.6 683.7L371.9 671.5L370.2 659.3L365.7 649.2M534.2 805.5L551.0 793.3L548.1 781.1L534.2 777.1L520.3 781.1L522.2 793.3ZM534.2 720.2L534.2 720.2L534.2 720.2L534.2 720.2ZM601.6 720.2L601.6 720.2L601.6 720.2L601.6 720.2ZM525.0 537.5L534.2 546.1L542.8 537.5M655.5 537.5L669.0 549.7L669.0 549.7M365.7 565.3L367.2 561.9L377.9 549.7L374.1 537.5M365.7 618.2L368.4 610.6L365.7 603.0M669.0 684.9L661.2 695.9L646.1 708.0L635.3 717.2L601.6 715.2L567.9 717.8L534.2 713.5L510.1 720.2L534.2 730.4L567.9 722.0L601.6 727.0L628.6 732.4L635.3 734.4L642.0 744.6L669.0 756.8L643.7 769.0L635.3 775.0L618.5 781.1L601.6 786.2L567.9 793.3L558.0 781.1L534.2 774.2L510.4 781.1L510.1 793.3L506.1 805.5M433.1 805.5L433.1 805.5L421.3 793.3L410.1 781.1L399.4 769.0L399.4 769.0L396.6 756.8L395.2 744.6L393.1 732.4L388.4 720.2L385.4 708.0L381.8 695.9L378.1 683.7L374.5 671.5L372.4 659.3L367.1 647.1L368.8 635.0L365.7 626.4M521.2 537.5L534.2 549.7L534.2 549.7L534.2 549.7L546.4 537.5M633.2 537.5L635.3 541.0L652.1 549.7L665.6 561.9L669.0 562.6M669.0 676.7L661.5 683.7L656.9 695.9L640.1 708.0L635.3 712.1L601.6 710.1L579.1 708.0L567.9 706.8L534.2 706.3L528.6 708.0L500.5 715.7L496.6 720.2L500.5 729.4L507.2 732.4L534.2 739.4L561.2 732.4L567.9 730.7L584.8 732.4L601.6 733.3L635.3 744.6L635.3 744.6L647.9 756.8L635.3 769.0L635.3 769.0L601.6 781.1L567.9 781.1L534.2 771.3L500.5 781.1L500.5 781.1L496.8 793.3L466.8 805.5L433.1 796.8L429.7 793.3L417.8 781.1L403.0 769.0L400.7 756.8L399.4 744.6L399.4 744.6L397.0 732.4L391.6 720.2L388.2 708.0L384.3 695.9L380.6 683.7L377.1 671.5L374.7 659.3L369.6 647.1L371.0 635.0L366.8 622.8L371.1 610.6L367.0 598.4L368.2 586.2L365.7 574.0L370.9 561.9L381.5 549.7L382.5 537.5M517.4 537.5L526.9 549.7L534.2 557.3L539.8 549.7L550.0 537.5M627.9 537.5L635.3 549.7L635.3 549.7L657.2 561.9L669.0 564.5M669.0 622.8L669.0 622.8ZM669.0 668.0L665.0 671.5L652.1 683.7L652.6 695.9L635.3 707.5L601.6 705.0L567.9 700.7L534.2 697.6L500.5 708.0L500.5 708.0L490.1 720.2L490.1 732.4L500.5 735.0L530.2 744.6L534.2 748.7L543.8 744.6L567.9 737.8L601.6 737.6L622.3 744.6L632.4 756.8L621.3 769.0L601.6 776.1L567.9 769.0L567.9 769.0L534.2 766.5L525.8 769.0L500.5 773.5L483.6 781.1L478.0 793.3L466.8 797.9L450.0 793.3L433.1 788.8L425.4 781.1L406.6 769.0L403.9 756.8L406.7 744.6L402.8 732.4L399.4 729.7L394.9 720.2L391.0 708.0L386.8 695.9L383.0 683.7L379.7 671.5L376.9 659.3L372.0 647.1L373.1 635.0L369.5 622.8L373.9 610.6L370.4 598.4L371.3 586.2L369.6 574.0L374.7 561.9L385.1 549.7L391.0 537.5M534.2 580.1L528.6 586.2L534.2 588.5L537.2 586.2ZM513.5 537.5L519.5 549.7L520.7 561.9L517.4 574.0L519.2 586.2L534.2 592.3L542.1 586.2L537.3 574.0L538.2 561.9L545.4 549.7L553.6 537.5M622.7 537.5L630.9 549.7L635.3 554.4L648.8 561.9L669.0 566.4M669.0 614.1L665.4 622.8L669.0 626.4M669.0 659.3L669.0 659.3L655.1 671.5L642.8 683.7L648.3 695.9L635.3 704.6L601.6 699.9L574.6 695.9L567.9 694.8L534.2 692.4L500.5 695.1L499.6 695.9L494.9 708.0L483.6 720.2L477.2 732.4L500.5 738.2L520.3 744.6L531.6 756.8L500.5 767.2L495.7 769.0L466.8 781.1L433.1 781.1L410.2 769.0L407.2 756.8L414.1 744.6L411.2 732.4L399.4 722.9L398.1 720.2L393.8 708.0L389.3 695.9L385.5 683.7L382.3 671.5L379.2 659.3L374.4 647.1L375.3 635.0L372.2 622.8L376.6 610.6L373.8 598.4L374.4 586.2L373.5 574.0L378.4 561.9L388.6 549.7L399.4 537.5L399.4 537.5M601.6 742.0L609.4 744.6L625.0 756.8L607.2 769.0L601.6 771.0L592.0 769.0L567.9 760.3L545.4 756.8L567.9 744.6L567.9 744.6ZM509.7 537.5L512.2 549.7L500.5 559.4L497.8 561.9L497.7 574.0L500.5 578.6L509.9 586.2L534.2 596.1L547.1 586.2L544.9 574.0L548.1 561.9L551.0 549.7L557.1 537.5M617.4 537.5L626.4 549.7L635.3 559.1L640.4 561.9L669.0 568.3M669.0 608.9L666.5 610.6L661.8 622.8L669.0 629.9M669.0 647.1L669.0 647.1L659.6 659.3L645.2 671.5L635.3 681.7L631.9 683.7L635.3 684.8L643.9 695.9L635.3 701.7L604.7 695.9L601.6 694.6L567.9 689.2L534.2 688.0L500.5 691.3L495.0 695.9L489.3 708.0L477.2 720.2L466.8 731.1L463.1 732.4L466.8 733.0L500.5 741.4L510.4 744.6L518.6 756.8L500.5 762.9L483.6 769.0L466.8 776.1L433.1 779.2L413.7 769.0L410.4 756.8L421.4 744.6L419.6 732.4L402.7 720.2L399.4 715.7L396.6 708.0L391.9 695.9L388.0 683.7L384.9 671.5L381.4 659.3L376.8 647.1L377.5 635.0L374.9 622.8L379.3 610.6L377.2 598.4L377.6 586.2L377.5 574.0L382.2 561.9L392.2 549.7L399.4 541.6L405.4 537.5M534.2 656.5L531.5 659.3L534.2 663.9L538.4 659.3ZM601.6 746.5L617.7 756.8L601.6 766.3L575.1 756.8ZM505.9 537.5L504.9 549.7L500.5 553.3L491.1 561.9L493.0 574.0L500.5 586.2L500.5 586.2L528.6 598.4L534.2 610.6L534.2 610.6L534.2 610.6L537.0 598.4L552.0 586.2L552.6 574.0L558.0 561.9L556.7 549.7L560.7 537.5M612.1 537.5L622.0 549.7L633.1 561.9L635.3 563.6L669.0 570.2M669.0 606.0L662.4 610.6L658.2 622.8L669.0 633.5M669.0 638.4L660.6 647.1L650.3 659.3L635.3 671.5L635.3 671.5L615.1 683.7L601.6 688.6L567.9 683.7L567.9 683.7L534.2 671.5L545.4 659.3L534.2 651.8L527.1 659.3L534.2 671.5L534.2 683.7L500.5 687.5L490.5 695.9L483.6 708.0L470.7 720.2L466.8 724.3L444.3 732.4L466.8 735.9L500.5 744.6L500.5 744.6L505.7 756.8L500.5 758.5L471.6 769.0L466.8 771.0L433.1 777.3L417.3 769.0L413.7 756.8L428.7 744.6L428.0 732.4L408.1 720.2L399.4 708.0L399.4 708.0L394.4 695.9L390.5 683.7L387.5 671.5L383.7 659.3L379.2 647.1L379.7 635.0L377.7 622.8L382.0 610.6L380.5 598.4L380.7 586.2L381.4 574.0L385.9 561.9L395.8 549.7L399.4 545.6L411.4 537.5M635.3 690.3L639.6 695.9L635.3 698.8L620.0 695.9ZM601.6 751.2L610.4 756.8L601.6 762.0L587.2 756.8ZM502.0 537.5L500.5 543.6L496.3 549.7L484.3 561.9L488.3 574.0L496.5 586.2L500.5 592.3L514.5 598.4L528.6 610.6L534.2 615.7L540.2 610.6L544.0 598.4L557.0 586.2L560.2 574.0L567.9 561.9L567.9 561.9L567.9 561.9L562.3 549.7L564.3 537.5M606.9 537.5L617.6 549.7L627.4 561.9L635.3 568.0L669.0 572.1M669.0 603.0L658.3 610.6L654.7 622.8L663.7 635.0L652.1 647.1L640.9 659.3L635.3 663.9L601.6 669.5L567.9 671.5L552.5 659.3L534.2 647.1L534.2 647.1L534.2 647.1L522.7 659.3L518.9 671.5L500.5 683.7L500.5 683.7L485.9 695.9L478.0 708.0L466.8 718.2L463.4 720.2L433.1 731.2L413.5 720.2L405.0 708.0L399.4 702.0L396.9 695.9L393.0 683.7L390.1 671.5L385.9 659.3L381.6 647.1L381.9 635.0L380.4 622.8L384.7 610.6L383.9 598.4L383.8 586.2L385.3 574.0L389.7 561.9L399.4 549.7L399.4 549.7L417.5 537.5M466.8 738.8L489.3 744.6L493.3 756.8L466.8 766.3L461.7 769.0L433.1 775.4L420.9 769.0L416.9 756.8L433.1 745.5L438.7 744.6ZM601.6 755.8L603.1 756.8L601.6 757.6L599.2 756.8ZM491.3 537.5L485.8 549.7L477.6 561.9L483.6 574.0L492.5 586.2L500.5 598.4L500.5 598.4L523.0 610.6L534.2 620.7L546.2 610.6L551.0 598.4L562.0 586.2L567.9 574.0L567.9 574.0L575.2 561.9L567.9 549.7L601.6 537.5L613.1 549.7L621.8 561.9L635.3 572.3L669.0 574.0L669.0 574.0M669.0 600.1L654.2 610.6L651.1 622.8L654.8 635.0L643.7 647.1L635.3 655.8L625.7 659.3L601.6 664.4L567.9 666.0L559.5 659.3L539.8 647.1L534.2 641.0L530.5 647.1L518.2 659.3L503.6 671.5L500.5 673.5L495.4 683.7L481.4 695.9L472.4 708.0L466.8 713.1L455.0 720.2L433.1 728.1L419.0 720.2L410.6 708.0L399.4 695.9L399.4 695.9L395.4 683.7L392.7 671.5L388.2 659.3L384.0 647.1L384.1 635.0L383.1 622.8L387.4 610.6L387.3 598.4L386.9 586.2L389.2 574.0L393.4 561.9L399.4 554.4L410.6 549.7L423.5 537.5M466.8 741.7L478.0 744.6L481.2 756.8L466.8 762.0L453.3 769.0L433.1 773.5L424.5 769.0L420.1 756.8L433.1 747.7L452.8 744.6ZM476.0 537.5L475.2 549.7L470.8 561.9L479.0 574.0L488.5 586.2L495.5 598.4L500.5 601.5L517.4 610.6L531.5 622.8L534.2 635.0L526.7 647.1L513.8 659.3L500.5 668.9L497.7 671.5L490.3 683.7L476.8 695.9L466.8 708.0L466.8 708.0L446.6 720.2L433.1 725.1L424.4 720.2L416.2 708.0L406.7 695.9L399.4 688.2L397.9 683.7L395.3 671.5L390.4 659.3L386.4 647.1L386.3 635.0L385.8 622.8L390.2 610.6L390.6 598.4L390.0 586.2L393.1 574.0L397.2 561.9L399.4 559.1L421.9 549.7L429.5 537.5M601.6 542.2L608.7 549.7L616.2 561.9L610.0 574.0L635.3 581.4L669.0 586.2L665.3 598.4L650.1 610.6L647.5 622.8L645.9 635.0L635.3 647.1L635.3 647.1L601.6 659.3L601.6 659.3L567.9 660.4L566.5 659.3L545.4 647.1L534.2 635.0L542.0 622.8L552.3 610.6L558.1 598.4L566.9 586.2L567.9 584.2L596.0 574.0L582.6 561.9L580.9 549.7ZM433.1 750.0L466.8 744.6L469.2 756.8L466.8 757.6L444.9 769.0L433.1 771.6L428.1 769.0L423.4 756.8ZM601.6 546.9L604.3 549.7L610.6 561.9L601.6 570.0L589.9 561.9L593.8 549.7ZM399.4 566.7L433.1 561.9L466.8 564.3L474.3 574.0L484.5 586.2L490.6 598.4L500.5 604.5L511.7 610.6L527.1 622.8L530.1 635.0L523.0 647.1L509.4 659.3L500.5 665.7L494.3 671.5L485.2 683.7L472.3 695.9L466.8 702.5L455.6 708.0L438.2 720.2L433.1 722.1L429.8 720.2L421.9 708.0L414.1 695.9L403.1 683.7L399.4 678.8L397.8 671.5L392.7 659.3L388.8 647.1L388.5 635.0L388.5 622.8L392.9 610.6L394.0 598.4L393.2 586.2L397.0 574.0ZM601.6 582.2L615.1 586.2L635.3 588.8L655.9 598.4L646.0 610.6L643.9 622.8L637.1 635.0L635.3 637.0L622.3 647.1L601.6 654.6L567.9 656.8L551.0 647.1L547.2 635.0L554.9 622.8L558.3 610.6L565.1 598.4L567.9 594.3L590.4 586.2ZM433.1 752.3L457.2 756.8L436.5 769.0L433.1 769.7L431.7 769.0L426.6 756.8ZM601.6 554.6L605.0 561.9L601.6 564.9L597.2 561.9ZM433.1 568.0L466.8 570.4L469.6 574.0L480.4 586.2L485.6 598.4L500.5 607.5L506.1 610.6L522.7 622.8L526.0 635.0L519.2 647.1L504.9 659.3L500.5 662.5L490.9 671.5L480.1 683.7L467.7 695.9L466.8 697.0L444.3 708.0L433.1 716.7L427.5 708.0L421.4 695.9L412.5 683.7L401.3 671.5L399.4 669.5L394.9 659.3L391.2 647.1L390.6 635.0L391.2 622.8L395.6 610.6L397.4 598.4L396.3 586.2L399.4 577.5L409.0 574.0ZM433.1 595.1L416.2 598.4L433.1 599.3L437.7 598.4ZM601.6 587.9L635.3 593.2L646.5 598.4L641.9 610.6L640.3 622.8L635.3 630.5L628.2 635.0L609.4 647.1L601.6 649.9L567.9 653.5L556.7 647.1L560.1 635.0L567.9 622.8L567.9 622.8L567.9 622.8L564.3 610.6L567.9 604.5L572.5 598.4ZM433.1 754.5L445.1 756.8L433.1 764.4L429.9 756.8ZM433.1 574.0L466.8 575.8L476.4 586.2L480.7 598.4L500.5 610.6L500.5 610.6L518.2 622.8L521.9 635.0L515.5 647.1L500.5 659.3L500.5 659.3L487.4 671.5L475.0 683.7L466.8 691.8L447.5 695.9L433.1 708.0L428.7 695.9L421.9 683.7L406.1 671.5L399.4 664.4L397.2 659.3L393.6 647.1L392.8 635.0L394.0 622.8L398.3 610.6L399.4 604.5L433.1 600.7L445.4 598.4L433.1 589.5L399.4 586.2ZM601.6 590.7L635.3 597.5L637.2 598.4L637.8 610.6L636.7 622.8L635.3 625.0L619.3 635.0L601.6 645.1L592.0 647.1L567.9 650.3L562.3 647.1L567.9 638.4L573.5 635.0L583.2 622.8L572.7 610.6L580.2 598.4ZM466.8 580.1L472.4 586.2L475.7 598.4L495.7 610.6L500.5 613.6L513.8 622.8L517.8 635.0L511.7 647.1L500.5 656.3L496.6 659.3L484.0 671.5L469.9 683.7L466.8 686.7L433.1 687.7L431.2 683.7L411.0 671.5L399.4 659.3L399.4 659.3L396.0 647.1L395.0 635.0L396.7 622.8L399.4 615.2L402.5 610.6L433.1 602.1L453.0 598.4L440.6 586.2ZM601.6 593.4L624.9 598.4L627.8 610.6L610.0 622.8L610.5 635.0L601.6 640.0L587.6 635.0L598.5 622.8L584.8 610.6L587.8 598.4ZM466.8 584.5L468.4 586.2L470.8 598.4L490.9 610.6L500.5 616.7L509.4 622.8L513.7 635.0L508.0 647.1L500.5 653.2L492.7 659.3L480.6 671.5L466.8 682.6L433.1 681.5L415.8 671.5L403.6 659.3L399.4 650.6L398.4 647.1L397.2 635.0L399.4 622.8L399.4 622.8L407.6 610.6L433.1 603.5L460.7 598.4L459.3 586.2ZM601.6 596.2L612.0 598.4L609.1 610.6L601.6 614.7L596.8 610.6L595.5 598.4ZM433.1 604.9L466.8 599.0L486.1 610.6L500.5 619.7L504.9 622.8L509.5 635.0L504.2 647.1L500.5 650.2L488.7 659.3L477.1 671.5L466.8 679.8L433.1 678.7L420.6 671.5L407.8 659.3L401.7 647.1L399.4 635.0L403.6 622.8L412.7 610.6ZM433.1 606.3L466.8 601.9L481.2 610.6L500.5 622.8L500.5 622.8L505.4 635.0L500.5 647.1L500.5 647.1L484.8 659.3L473.7 671.5L466.8 677.0L433.1 675.9L425.4 671.5L412.0 659.3L405.5 647.1L403.5 635.0L407.8 622.8L417.8 610.6ZM433.1 607.8L466.8 604.8L476.4 610.6L495.2 622.8L500.5 632.9L501.3 635.0L500.5 637.0L495.5 647.1L480.9 659.3L470.2 671.5L466.8 674.3L433.1 673.2L430.2 671.5L416.2 659.3L409.4 647.1L407.6 635.0L412.0 622.8L422.9 610.6ZM433.1 609.2L466.8 607.7L471.6 610.6L490.0 622.8L496.3 635.0L490.6 647.1L477.0 659.3L466.8 671.5L433.1 670.1L420.5 659.3L413.2 647.1L411.7 635.0L416.2 622.8L428.0 610.6ZM433.1 610.6L466.8 610.6L484.7 622.8L491.0 635.0L485.6 647.1L473.1 659.3L466.8 666.8L433.1 666.5L424.7 659.3L417.0 647.1L415.8 635.0L420.5 622.8ZM433.1 614.7L466.8 614.2L479.4 622.8L485.8 635.0L480.7 647.1L469.2 659.3L466.8 662.1L433.1 662.9L428.9 659.3L420.8 647.1L419.9 635.0L424.7 622.8ZM433.1 618.7L466.8 617.8L474.2 622.8L480.5 635.0L475.7 647.1L466.8 657.1L433.1 659.3L424.7 647.1L424.1 635.0L428.9 622.8ZM466.8 621.3L468.9 622.8L475.2 635.0L470.8 647.1L466.8 651.6L433.1 653.8L428.5 647.1L428.2 635.0L433.1 622.8L433.1 622.8ZM433.1 632.9L466.8 628.9L470.0 635.0L466.8 644.1L450.0 647.1L433.1 648.2L432.3 647.1L432.3 635.0Z" fill="none" stroke="#000" stroke-width="0.60" stroke-linejoin="round"/>
</g>
<rect x="350.2" y="535.2" width="15.6" height="150.0" fill="#808080"/>
<rect x="350.2" y="685.2" width="15.6" height="122.0" fill="#d0d0d0"/>
<text transform="translate(363.3 596.0) rotate(-90) scale(1 1.1)" font-size="15.30" text-anchor="middle" fill="#1a1a1a" stroke="#1a1a1a" stroke-width="0.30">Anaphase</text>
<text transform="translate(363.0 745.6) rotate(-90) scale(1 1.1)" font-size="15.30" text-anchor="middle" fill="#1a1a1a" stroke="#1a1a1a" stroke-width="0.30">Metaphase</text>
<line x1="350.6" y1="535.0" x2="670.2" y2="535.0" stroke="#999" stroke-width="1.00"/>
<line x1="670.2" y1="535.0" x2="670.2" y2="807.2" stroke="#999" stroke-width="1.00"/>
<line x1="350.6" y1="807.2" x2="670.2" y2="807.2" stroke="#555" stroke-width="1.20"/>
<line x1="384.7" y1="807.2" x2="384.7" y2="803.7" stroke="#555" stroke-width="1.00"/>
<line x1="384.7" y1="535.0" x2="384.7" y2="538.5" stroke="#999" stroke-width="1.00"/>
<line x1="418.6" y1="807.2" x2="418.6" y2="803.7" stroke="#555" stroke-width="1.00"/>
<line x1="418.6" y1="535.0" x2="418.6" y2="538.5" stroke="#999" stroke-width="1.00"/>
<line x1="452.5" y1="807.2" x2="452.5" y2="803.7" stroke="#555" stroke-width="1.00"/>
<line x1="452.5" y1="535.0" x2="452.5" y2="538.5" stroke="#999" stroke-width="1.00"/>
<line x1="486.4" y1="807.2" x2="486.4" y2="803.7" stroke="#555" stroke-width="1.00"/>
<line x1="486.4" y1="535.0" x2="486.4" y2="538.5" stroke="#999" stroke-width="1.00"/>
<line x1="520.3" y1="807.2" x2="520.3" y2="803.7" stroke="#555" stroke-width="1.00"/>
<line x1="520.3" y1="535.0" x2="520.3" y2="538.5" stroke="#999" stroke-width="1.00"/>
<line x1="554.2" y1="807.2" x2="554.2" y2="803.7" stroke="#555" stroke-width="1.00"/>
<line x1="554.2" y1="535.0" x2="554.2" y2="538.5" stroke="#999" stroke-width="1.00"/>
<line x1="588.1" y1="807.2" x2="588.1" y2="803.7" stroke="#555" stroke-width="1.00"/>
<line x1="588.1" y1="535.0" x2="588.1" y2="538.5" stroke="#999" stroke-width="1.00"/>
<line x1="622.0" y1="807.2" x2="622.0" y2="803.7" stroke="#555" stroke-width="1.00"/>
<line x1="622.0" y1="535.0" x2="622.0" y2="538.5" stroke="#999" stroke-width="1.00"/>
<line x1="655.9" y1="807.2" x2="655.9" y2="803.7" stroke="#555" stroke-width="1.00"/>
<line x1="655.9" y1="535.0" x2="655.9" y2="538.5" stroke="#999" stroke-width="1.00"/>
<text transform="translate(344.5 567.4) scale(1 1.1)" font-size="15.30" text-anchor="end" fill="#1a1a1a" stroke="#1a1a1a" stroke-width="0.30">100</text>
<text transform="translate(344.5 690.0) scale(1 1.1)" font-size="15.30" text-anchor="end" fill="#1a1a1a" stroke="#1a1a1a" stroke-width="0.30">0</text>
<text transform="translate(343.8 812.6) scale(1 1.1)" font-size="15.30" text-anchor="end" fill="#1a1a1a" stroke="#1a1a1a" stroke-width="0.30">-100</text>
<text transform="translate(311.0 661.0) rotate(-90) scale(1 1.1)" font-size="15.60" text-anchor="middle" fill="#1a1a1a" stroke="#1a1a1a" stroke-width="0.30">Time from anaphase onset (s)</text>
<rect x="681.2" y="537" width="12.4" height="266.4" fill="url(#jetg)" stroke="#333" stroke-width="1"/>
<line x1="693.6" y1="567.3" x2="697.2" y2="567.3" stroke="#333" stroke-width="1.00"/>
<text transform="translate(701.5 572.4) scale(1 1.2)" font-size="13.80" fill="#1a1a1a" stroke="#1a1a1a" stroke-width="0.30">0.04</text>
<line x1="693.6" y1="685.4" x2="697.2" y2="685.4" stroke="#333" stroke-width="1.00"/>
<text transform="translate(701.5 691.7) scale(1 1.2)" font-size="13.80" fill="#1a1a1a" stroke="#1a1a1a" stroke-width="0.30">0.02</text>
<line x1="693.6" y1="803.4" x2="697.2" y2="803.4" stroke="#333" stroke-width="1.00"/>
<text transform="translate(701.5 810.4) scale(1 1.2)" font-size="13.80" fill="#1a1a1a" stroke="#1a1a1a" stroke-width="0.30">0</text>
<text transform="translate(744.0 667.2) rotate(-90) scale(1 1.1)" font-size="15.45" text-anchor="middle" fill="#1a1a1a" stroke="#1a1a1a" stroke-width="0.30">Density of microtubule contacts (/μm<tspan font-size="10" dy="-4.5">2</tspan><tspan dy="4.5">)</tspan></text>
<path d="M435.5 538.1 C435.6 543.2 435.6 559.4 436.2 568.8 C436.8 578.2 437.8 587.1 439.4 594.7 C441.0 602.3 443.7 607.7 445.9 614.2 C448.1 620.7 450.8 627.1 452.4 633.6 C454.0 640.1 455.1 645.5 455.6 653.0 C456.1 660.5 455.7 669.2 455.6 678.9 C455.5 688.6 454.9 700.5 455.0 711.3 C455.1 722.1 455.8 730.8 456.3 743.7 C456.8 756.7 457.9 778.6 458.2 789.0 C458.5 799.4 458.2 803.2 458.2 806.0" fill="none" stroke="#000" stroke-width="4.3" stroke-dasharray="5.2 6.4"/>
<path d="M597.4 537.5 C597.0 541.6 595.8 554.5 594.8 562.4 C593.8 570.3 592.1 578.5 591.6 585.0 C591.1 591.5 592.7 594.2 591.6 601.2 C590.5 608.2 587.8 619.6 585.1 627.1 C582.4 634.6 579.2 640.0 575.4 646.5 C571.6 653.0 566.2 659.5 562.4 666.0 C558.6 672.5 555.4 678.9 552.7 685.4 C550.0 691.9 548.0 698.3 546.3 704.8 C544.6 711.3 543.6 715.6 542.4 724.2 C541.2 732.8 540.1 746.9 539.1 756.6 C538.1 766.3 536.9 774.3 536.5 782.5 C536.1 790.7 536.5 802.1 536.5 806.0" fill="none" stroke="#000" stroke-width="4"/>
<text transform="translate(343.7 825.7) scale(1 1.1)" font-size="15.30" fill="#000" stroke="#000" stroke-width="0.30">Anterior</text>
<text transform="translate(699.3 825.4) scale(1 1.1)" font-size="15.30" text-anchor="end" fill="#000" stroke="#000" stroke-width="0.30">Posterior</text>
<rect x="336.2" y="852.8" width="370.8" height="17.5" fill="#a7a7a7"/>
<rect x="350.0" y="849.2" width="242.1" height="3.6" fill="#231f20"/>
<rect x="592.1" y="846.6" width="99.2" height="9.0" fill="#9b4f96"/>
<line x1="458.3" y1="817.3" x2="404.5" y2="851.0" stroke="#231f20" stroke-width="1.10"/>
<line x1="458.3" y1="817.3" x2="424.6" y2="851.0" stroke="#231f20" stroke-width="1.10"/>
<line x1="458.3" y1="817.3" x2="447.9" y2="851.0" stroke="#231f20" stroke-width="1.10"/>
<line x1="458.3" y1="817.3" x2="485.2" y2="851.0" stroke="#231f20" stroke-width="1.10"/>
<line x1="537.3" y1="817.3" x2="522.8" y2="851.0" stroke="#231f20" stroke-width="1.10"/>
<line x1="537.3" y1="817.3" x2="554.9" y2="851.0" stroke="#231f20" stroke-width="1.10"/>
<circle cx="458.3" cy="817.3" r="12" fill="#231f20"/>
<circle cx="537.3" cy="817.3" r="12" fill="#231f20"/>
<circle cx="404.5" cy="851.0" r="4.6" fill="#6dbf4b" stroke="#2a8a3a" stroke-width="1.3"/>
<circle cx="424.6" cy="851.0" r="4.6" fill="#6dbf4b" stroke="#2a8a3a" stroke-width="1.3"/>
<circle cx="447.9" cy="851.0" r="4.6" fill="#6dbf4b" stroke="#2a8a3a" stroke-width="1.3"/>
<circle cx="485.2" cy="851.0" r="4.6" fill="#6dbf4b" stroke="#2a8a3a" stroke-width="1.3"/>
<circle cx="522.8" cy="851.0" r="4.6" fill="#6dbf4b" stroke="#2a8a3a" stroke-width="1.3"/>
<circle cx="554.9" cy="851.0" r="4.6" fill="#6dbf4b" stroke="#2a8a3a" stroke-width="1.3"/>
<rect x="404.0" y="872.1" width="88.0" height="12.5" fill="url(#gband)"/>
<rect x="516.0" y="872.1" width="57.0" height="12.5" fill="url(#gband)"/>
<line x1="352.4" y1="871.1" x2="692.5" y2="871.1" stroke="#231f20" stroke-width="2.60"/>
<line x1="353.6" y1="869.9" x2="353.6" y2="892.1" stroke="#231f20" stroke-width="2.60"/>
<line x1="387.4" y1="869.9" x2="387.4" y2="880.6" stroke="#231f20" stroke-width="2.60"/>
<line x1="421.1" y1="869.9" x2="421.1" y2="880.6" stroke="#231f20" stroke-width="2.60"/>
<line x1="454.9" y1="869.9" x2="454.9" y2="880.6" stroke="#231f20" stroke-width="2.60"/>
<line x1="488.7" y1="869.9" x2="488.7" y2="880.6" stroke="#231f20" stroke-width="2.60"/>
<line x1="522.5" y1="869.9" x2="522.5" y2="892.1" stroke="#231f20" stroke-width="2.60"/>
<line x1="556.2" y1="869.9" x2="556.2" y2="880.6" stroke="#231f20" stroke-width="2.60"/>
<line x1="590.0" y1="869.9" x2="590.0" y2="880.6" stroke="#231f20" stroke-width="2.60"/>
<line x1="623.8" y1="869.9" x2="623.8" y2="880.6" stroke="#231f20" stroke-width="2.60"/>
<line x1="657.5" y1="869.9" x2="657.5" y2="880.6" stroke="#231f20" stroke-width="2.60"/>
<line x1="691.3" y1="869.9" x2="691.3" y2="892.1" stroke="#231f20" stroke-width="2.60"/>
<text transform="translate(370.5 885.5) scale(1 1.1)" font-size="15.30" text-anchor="middle" fill="#000" stroke="#000" stroke-width="0.30">1</text>
<text transform="translate(507.9 885.5) scale(1 1.1)" font-size="15.30" text-anchor="middle" fill="#000" stroke="#000" stroke-width="0.30">5</text>
<text transform="translate(673.9 885.5) scale(1 1.1)" font-size="15.30" text-anchor="middle" fill="#000" stroke="#000" stroke-width="0.30">10</text>
<text transform="translate(450.0 905.8) scale(1 1.1)" font-size="15.30" text-anchor="middle" fill="#000" stroke="#000" stroke-width="0.30">30</text>
<text transform="translate(518.3 905.8) scale(1 1.1)" font-size="15.30" text-anchor="middle" fill="#000" stroke="#000" stroke-width="0.30">50</text>
<text transform="translate(586.2 905.8) scale(1 1.1)" font-size="15.30" text-anchor="middle" fill="#000" stroke="#000" stroke-width="0.30">70</text>
<text transform="translate(519.6 920.6) scale(1 1.1)" font-size="15.50" text-anchor="middle" fill="#1a1a1a" stroke="#1a1a1a" stroke-width="0.30">Position in embryo along AP axis (%)</text>
</svg>
</body></html>
